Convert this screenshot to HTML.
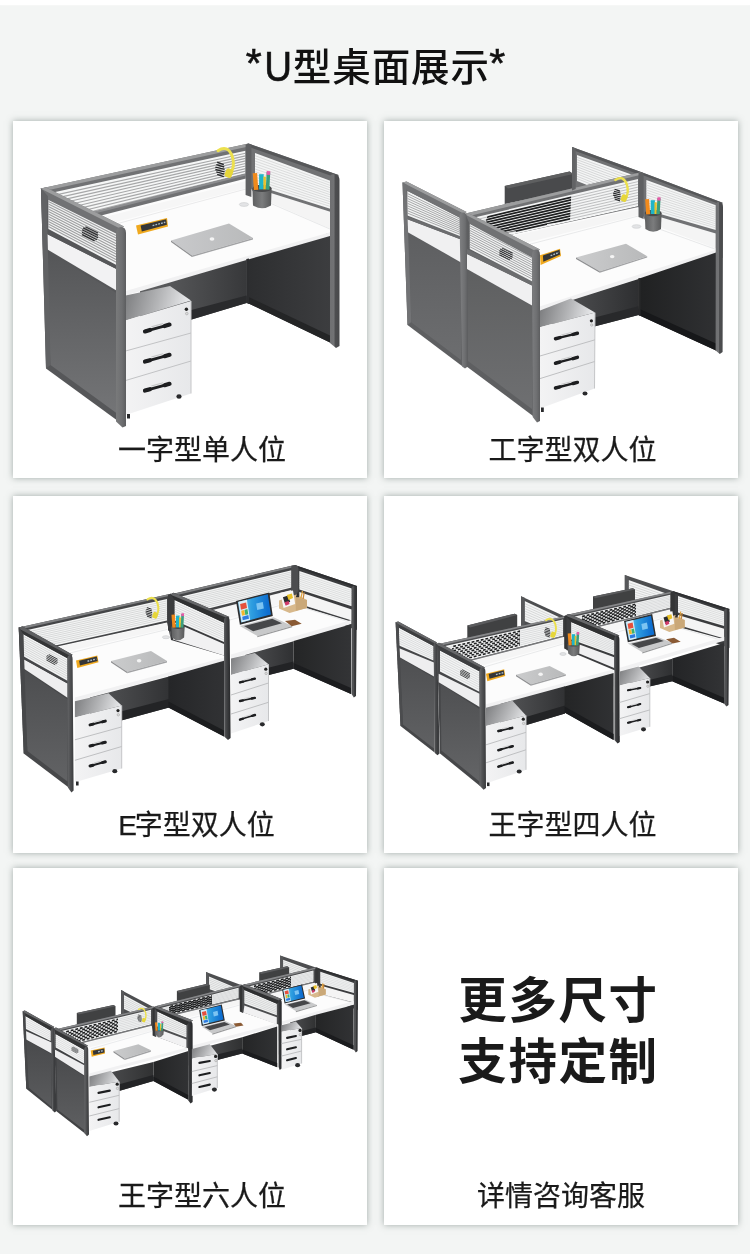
<!DOCTYPE html>
<html lang="zh-CN">
<head>
<meta charset="utf-8">
<title>U型桌面展示</title>
<style>
*{margin:0;padding:0;box-sizing:border-box}
html,body{width:750px;height:1254px;overflow:hidden}
body{background:#f3f5f4;position:relative;font-family:"Liberation Sans","Noto Sans CJK SC",sans-serif;color:#1a1a1a}
.topbar{position:absolute;left:0;top:0;width:750px;height:5px;background:#fff;box-shadow:0 0 2px rgba(255,255,255,.9)}
h1{filter:grayscale(1);position:absolute;left:0;top:38.5px;width:750px;text-align:center;font-size:38.5px;line-height:56px;font-weight:500;letter-spacing:.9px;color:#111;padding-left:5px}
.ast{position:relative;top:-4px;left:-1.5px;font-size:41px;-webkit-text-stroke:.6px #111}.lat{-webkit-text-stroke:.55px #111;display:inline-block;transform:scaleY(1.1);transform-origin:50% 76%}
.card{position:absolute;width:354px;height:357px;background:#fff;box-shadow:0 0 6.5px rgba(80,95,92,.5)}
.c1{left:13px;top:121px}.c2{left:384px;top:121px}
.c3{left:13px;top:496px}.c4{left:384px;top:496px}
.c5{left:13px;top:868px}.c6{left:384px;top:868px}
.lbl{-webkit-text-stroke:.25px #1a1a1a;filter:grayscale(1);position:absolute;font-size:28px;line-height:40px;white-space:nowrap;font-weight:400;color:#1a1a1a;transform:translateX(-50%)}
.big{filter:grayscale(1);position:absolute;left:384px;width:354px;text-align:center;font-size:48.5px;line-height:60.7px;font-weight:700;letter-spacing:1.6px;color:#1a1a1a;white-space:nowrap}
svg.art{position:absolute;left:0;top:0;width:750px;height:1254px;overflow:visible}
</style>
</head>
<body>
<div class="topbar"></div>
<h1><span class="ast">*</span><span class="lat">U</span>型桌面展示<span class="ast" style="margin-left:1px">*</span></h1>
<div class="card c1"></div><div class="card c2"></div>
<div class="card c3"></div><div class="card c4"></div>
<div class="card c5"></div><div class="card c6"></div>
<svg class="art" viewBox="0 0 750 1254">
<!--DESK1--><defs><linearGradient id="d1m" gradientUnits="userSpaceOnUse" x1="150" y1="0" x2="247" y2="0"><stop offset="0" stop-color="#5d5e60"/><stop offset="1" stop-color="#37383a"/></linearGradient><linearGradient id="d1r" gradientUnits="userSpaceOnUse" x1="249" y1="0" x2="330" y2="0"><stop offset="0" stop-color="#2d2e30"/><stop offset="1" stop-color="#3c3d3f"/></linearGradient><linearGradient id="d1p" gradientUnits="userSpaceOnUse" x1="330" y1="0" x2="339.5" y2="0"><stop offset="0" stop-color="#6f7072"/><stop offset="0.45" stop-color="#727375"/><stop offset="0.5" stop-color="#4e4f51"/><stop offset="1" stop-color="#48494b"/></linearGradient><linearGradient id="d1ft" gradientUnits="userSpaceOnUse" x1="125.6" y1="293" x2="184" y2="309"><stop offset="0" stop-color="#7d7e80"/><stop offset="0.55" stop-color="#b4b5b7"/><stop offset="1" stop-color="#e5e6e8"/></linearGradient><linearGradient id="d1f" gradientUnits="userSpaceOnUse" x1="125" y1="0" x2="191" y2="0"><stop offset="0" stop-color="#f3f3f4"/><stop offset="1" stop-color="#e7e8ea"/></linearGradient><linearGradient id="d1l" gradientUnits="userSpaceOnUse" x1="0" y1="230" x2="0" y2="420"><stop offset="0" stop-color="#515254"/><stop offset="1" stop-color="#757678"/></linearGradient><linearGradient id="d1q" gradientUnits="userSpaceOnUse" x1="116" y1="0" x2="126" y2="0"><stop offset="0" stop-color="#797a7b"/><stop offset="0.6" stop-color="#6e6f71"/><stop offset="1" stop-color="#5c5d5f"/></linearGradient><linearGradient id="d1lap" gradientUnits="userSpaceOnUse" x1="170" y1="0" x2="252" y2="0"><stop offset="0" stop-color="#c9cacc"/><stop offset="1" stop-color="#b9babb"/></linearGradient><linearGradient id="d1cup" gradientUnits="userSpaceOnUse" x1="252.4" y1="0" x2="271.6" y2="0"><stop offset="0" stop-color="#5e5f60"/><stop offset="0.5" stop-color="#7b7c7d"/><stop offset="1" stop-color="#575859"/></linearGradient></defs><g id="desk1"><polygon points="41.0,188.6 248.5,143.6 248.5,200.0 43.0,250.0" fill="#717274" /><polygon points="40.5,188.6 248.5,143.6 248.5,146.4 42.0,191.6" fill="#9c9d9e" /><polygon points="46.0,193.9 245.5,150.8 245.5,178.8 46.0,229.3" fill="#f6f7f7" /><line x1="46.0" y1="197.1" x2="245.5" y2="153.3" stroke="#a6a7a8" stroke-width="1.1" /><line x1="46.0" y1="200.4" x2="245.5" y2="155.9" stroke="#a6a7a8" stroke-width="1.1" /><line x1="46.0" y1="203.6" x2="245.5" y2="158.4" stroke="#a6a7a8" stroke-width="1.1" /><line x1="46.0" y1="206.8" x2="245.5" y2="160.9" stroke="#a6a7a8" stroke-width="1.1" /><line x1="46.0" y1="210.0" x2="245.5" y2="163.5" stroke="#a6a7a8" stroke-width="1.1" /><line x1="46.0" y1="213.2" x2="245.5" y2="166.0" stroke="#a6a7a8" stroke-width="1.1" /><line x1="46.0" y1="216.4" x2="245.5" y2="168.6" stroke="#a6a7a8" stroke-width="1.1" /><line x1="46.0" y1="219.7" x2="245.5" y2="171.1" stroke="#a6a7a8" stroke-width="1.1" /><line x1="46.0" y1="222.9" x2="245.5" y2="173.7" stroke="#a6a7a8" stroke-width="1.1" /><line x1="46.0" y1="226.1" x2="245.5" y2="176.2" stroke="#a6a7a8" stroke-width="1.1" /><polygon points="46.0,223.8 245.5,173.8 245.5,179.4 46.0,229.9" fill="#707173" /><polygon points="46.0,223.8 245.5,173.8 245.5,175.6 46.0,225.8" fill="#8d8e90" /><polygon points="248.5,143.6 338.5,175.0 338.5,240.0 248.5,205.0" fill="#717274" /><polygon points="248.5,143.6 338.5,175.0 336.0,177.6 248.5,146.8" fill="#565759" /><polygon points="255.0,153.0 331.0,181.0 331.0,209.0 255.0,185.0" fill="#f4f5f5" /><line x1="255.0" y1="155.7" x2="331.0" y2="183.3" stroke="#d4d5d6" stroke-width="0.8" /><line x1="255.0" y1="158.3" x2="331.0" y2="185.7" stroke="#d4d5d6" stroke-width="0.8" /><line x1="255.0" y1="161.0" x2="331.0" y2="188.0" stroke="#d4d5d6" stroke-width="0.8" /><line x1="255.0" y1="163.7" x2="331.0" y2="190.3" stroke="#d4d5d6" stroke-width="0.8" /><line x1="255.0" y1="166.3" x2="331.0" y2="192.7" stroke="#d4d5d6" stroke-width="0.8" /><line x1="255.0" y1="169.0" x2="331.0" y2="195.0" stroke="#d4d5d6" stroke-width="0.8" /><line x1="255.0" y1="171.7" x2="331.0" y2="197.3" stroke="#d4d5d6" stroke-width="0.8" /><line x1="255.0" y1="174.3" x2="331.0" y2="199.7" stroke="#d4d5d6" stroke-width="0.8" /><line x1="255.0" y1="177.0" x2="331.0" y2="202.0" stroke="#d4d5d6" stroke-width="0.8" /><line x1="255.0" y1="179.7" x2="331.0" y2="204.3" stroke="#d4d5d6" stroke-width="0.8" /><line x1="255.0" y1="182.3" x2="331.0" y2="206.7" stroke="#d4d5d6" stroke-width="0.8" /><polygon points="255.0,188.0 331.0,212.0 331.0,233.0 255.0,205.0" fill="#f4f4f4" /><polygon points="60.0,226.0 246.0,178.6 246.0,181.0 256.0,196.0 331.0,229.0 331.0,232.5 125.6,291.5 100.0,280.0" fill="#fcfcfc" /><polygon points="98.6,218.5 246.0,181.0 246.0,188.0 116.0,222.0" fill="#f6f6f6" /><line x1="116.0" y1="224.0" x2="246.0" y2="189.0" stroke="#e4e5e6" stroke-width="0.8" /><line x1="256.0" y1="197.0" x2="331.0" y2="229.5" stroke="#e2e3e4" stroke-width="0.8" /><polygon points="125.6,291.0 331.0,232.0 331.0,236.2 125.6,295.4" fill="#f1f1f2" /><polygon points="140.0,291.2 246.5,260.0 246.5,303.0 140.0,335.0" fill="url(#d1m)" /><polygon points="140.0,323.5 246.5,295.5 246.5,303.0 140.0,335.0" fill="#2a2b2d" /><polygon points="246.5,260.0 330.0,236.0 330.0,342.5 246.5,302.5" fill="url(#d1r)" /><polygon points="246.5,296.0 330.0,335.5 330.0,342.5 246.5,302.5" fill="#242526" /><polygon points="246.3,259.0 249.0,258.4 249.0,304.0 246.3,303.0" fill="#2c2d2f" /><polygon points="245.6,144.4 248.5,143.6 251.4,144.8 251.4,197.0 245.6,195.0" fill="#5f6062" /><path d="M330,178 Q330,173.5 334.5,174.5 L336.5,175 Q339.5,176 339.5,180 L339.5,346 L336,348 L330,343 Z" fill="url(#d1p)"/><polygon points="125.6,295.4 170.0,286.0 191.0,300.5 125.6,320.5" fill="url(#d1ft)" /><polygon points="125.6,320.5 191.0,301.0 191.0,393.5 125.6,415.0" fill="url(#d1f)" /><line x1="191.0" y1="301.0" x2="191.0" y2="393.5" stroke="#c5c6c8" stroke-width="1" /><line x1="125.6" y1="351.0" x2="191.0" y2="333.0" stroke="#c2c3c5" stroke-width="1" /><line x1="125.6" y1="380.5" x2="191.0" y2="361.0" stroke="#c2c3c5" stroke-width="1" /><line x1="145.0" y1="331.4" x2="169.5" y2="324.6" stroke="#1d1e20" stroke-width="2.8" stroke-linecap="round"/><line x1="145.0" y1="331.4" x2="149.9" y2="330.0" stroke="#1d1e20" stroke-width="4.2" stroke-linecap="round"/><line x1="164.6" y1="326.0" x2="169.5" y2="324.6" stroke="#1d1e20" stroke-width="4.2" stroke-linecap="round"/><line x1="151.4" y1="326.8" x2="163.1" y2="323.6" stroke="#c4c5c6" stroke-width="1.1" /><line x1="145.0" y1="361.6" x2="169.5" y2="354.8" stroke="#1d1e20" stroke-width="2.8" stroke-linecap="round"/><line x1="145.0" y1="361.6" x2="149.9" y2="360.2" stroke="#1d1e20" stroke-width="4.2" stroke-linecap="round"/><line x1="164.6" y1="356.2" x2="169.5" y2="354.8" stroke="#1d1e20" stroke-width="4.2" stroke-linecap="round"/><line x1="151.4" y1="357.0" x2="163.1" y2="353.8" stroke="#c4c5c6" stroke-width="1.1" /><line x1="145.0" y1="390.6" x2="169.5" y2="383.8" stroke="#1d1e20" stroke-width="2.8" stroke-linecap="round"/><line x1="145.0" y1="390.6" x2="149.9" y2="389.2" stroke="#1d1e20" stroke-width="4.2" stroke-linecap="round"/><line x1="164.6" y1="385.2" x2="169.5" y2="383.8" stroke="#1d1e20" stroke-width="4.2" stroke-linecap="round"/><line x1="151.4" y1="386.0" x2="163.1" y2="382.8" stroke="#c4c5c6" stroke-width="1.1" /><circle cx="186.4" cy="309.3" r="1.7" fill="#222"/><circle cx="186.8" cy="313.6" r="1.3" fill="#ddd" stroke="#999" stroke-width=".5"/><ellipse cx="179" cy="396.5" rx="2.6" ry="2.2" fill="#292a2c"/><rect x="127" y="414" width="3" height="4.5" fill="#292a2c"/><polygon points="41.0,189.0 118.0,228.0 118.0,421.0 46.0,368.5" fill="#565759" /><polygon points="45.5,250.5 116.4,293.0 116.4,413.0 50.5,365.0" fill="url(#d1l)" /><polygon points="45.0,233.0 116.4,269.0 116.4,290.6 45.0,248.0" fill="#f2f2f3" /><polygon points="44.5,229.4 116.4,265.0 116.4,269.0 45.0,233.0" fill="#565759" /><polygon points="48.4,199.0 116.4,233.0 116.4,265.0 48.4,229.0" fill="#f2f3f3" /><line x1="48.4" y1="201.5" x2="116.4" y2="235.7" stroke="#9e9fa0" stroke-width="1.1" /><line x1="48.4" y1="204.0" x2="116.4" y2="238.3" stroke="#9e9fa0" stroke-width="1.1" /><line x1="48.4" y1="206.5" x2="116.4" y2="241.0" stroke="#9e9fa0" stroke-width="1.1" /><line x1="48.4" y1="209.0" x2="116.4" y2="243.7" stroke="#9e9fa0" stroke-width="1.1" /><line x1="48.4" y1="211.5" x2="116.4" y2="246.3" stroke="#9e9fa0" stroke-width="1.1" /><line x1="48.4" y1="214.0" x2="116.4" y2="249.0" stroke="#9e9fa0" stroke-width="1.1" /><line x1="48.4" y1="216.5" x2="116.4" y2="251.7" stroke="#9e9fa0" stroke-width="1.1" /><line x1="48.4" y1="219.0" x2="116.4" y2="254.3" stroke="#9e9fa0" stroke-width="1.1" /><line x1="48.4" y1="221.5" x2="116.4" y2="257.0" stroke="#9e9fa0" stroke-width="1.1" /><line x1="48.4" y1="224.0" x2="116.4" y2="259.7" stroke="#9e9fa0" stroke-width="1.1" /><line x1="48.4" y1="226.5" x2="116.4" y2="262.3" stroke="#9e9fa0" stroke-width="1.1" /><polygon points="40.5,188.6 46.0,187.4 124.0,226.5 118.0,231.0 116.0,233.5 47.5,199.5 47.5,196.0" fill="#717274" /><polygon points="40.5,188.6 46.0,187.4 124.0,226.5 120.0,228.6" fill="#9c9d9e" /><polygon points="41.0,188.6 47.5,196.0 47.5,230.0 50.5,365.0 46.0,368.5" fill="#616264" /><path d="M116,234 Q116,227 121,227 Q126,227 126,233 L126,426 L122.5,427.5 L116,421.5 Z" fill="url(#d1q)"/><line x1="85.4" y1="226.7" x2="98.0" y2="233.0" stroke="#2b2c2e" stroke-width="1.26" /><line x1="83.1" y1="227.9" x2="98.0" y2="235.4" stroke="#2b2c2e" stroke-width="1.26" /><line x1="82.0" y1="229.8" x2="98.0" y2="237.8" stroke="#2b2c2e" stroke-width="1.26" /><line x1="82.0" y1="232.2" x2="96.9" y2="239.7" stroke="#2b2c2e" stroke-width="1.26" /><line x1="82.0" y1="234.6" x2="94.6" y2="240.9" stroke="#2b2c2e" stroke-width="1.26" /><polygon points="136.0,225.6 167.0,218.0 168.0,226.4 138.0,234.6" fill="#f0a91e" /><polygon points="140.6,225.6 166.2,219.2 166.9,224.8 141.8,231.5" fill="#353637" /><line x1="152.6" y1="225.6" x2="165.3" y2="222.3" stroke="#a9bccb" stroke-width="1.4" stroke-dasharray="1.8 1.1"/><polygon points="171.0,240.5 229.0,223.5 253.0,238.0 192.0,255.5" fill="url(#d1lap)" /><polygon points="171.0,240.5 192.0,255.5 192.0,257.0 171.0,242.0" fill="#8f9092" /><polygon points="192.0,255.5 253.0,238.0 253.0,239.4 192.0,257.0" fill="#a2a3a5" /><ellipse cx="212" cy="239" rx="2.4" ry="1.8" fill="#f4f4f4"/><path d="M252.4,188.4 L253.0,205.4 Q262.0,210.9 271.0,205.4 L271.6,188.4 Z" fill="url(#d1cup)"/><ellipse cx="262.0" cy="188.4" rx="9.6" ry="3.6" fill="#48494a"/><rect x="253.8" y="172.7" width="4.4" height="16.8" fill="#f08a1c" transform="rotate(-4 262.0 188.4)"/><rect x="259.1" y="174.2" width="4.6" height="15.2" fill="#1fb5c9"/><rect x="263.4" y="176.6" width="2.5" height="12.8" fill="#e8c12a"/><rect x="265.8" y="171.9" width="3.6" height="17.5" fill="#3b9e7e" transform="rotate(3 262.0 188.4)"/><rect x="265.8" y="170.8" width="3.6" height="3.8" fill="#e55aa6" transform="rotate(3 262.0 188.4)"/><ellipse cx="244" cy="204.5" rx="4.6" ry="1.9" fill="#e3e4e6" stroke="#cacbcd" stroke-width=".6"/><g transform="translate(218.0 146.5) scale(1.05)"><path d="M0,4 Q9,-2 13.5,9 Q16.5,19 12,26" fill="none" stroke="#ece04e" stroke-width="2.8" stroke-linecap="round"/><rect x="7" y="21" width="7" height="8.5" rx="2.2" fill="#e6d63a" transform="rotate(22 10 25)"/><line x1="-0.8" y1="15.0" x2="5.5" y2="17.2" stroke="#27282a" stroke-width="1.3" /><line x1="-1.6" y1="17.3" x2="5.9" y2="19.5" stroke="#27282a" stroke-width="1.3" /><line x1="-2.5" y1="19.6" x2="6.3" y2="21.8" stroke="#27282a" stroke-width="1.3" /><line x1="-2.5" y1="21.9" x2="6.3" y2="24.1" stroke="#27282a" stroke-width="1.3" /><line x1="-1.6" y1="24.2" x2="5.9" y2="26.4" stroke="#27282a" stroke-width="1.3" /><line x1="-0.8" y1="26.5" x2="5.5" y2="28.7" stroke="#27282a" stroke-width="1.3" /></g></g><!--/DESK1-->
<!--DESK2--><defs><linearGradient id="d2m" gradientUnits="userSpaceOnUse" x1="560" y1="0" x2="640" y2="0"><stop offset="0" stop-color="#515254"/><stop offset="1" stop-color="#2d2e30"/></linearGradient><linearGradient id="d2r" gradientUnits="userSpaceOnUse" x1="640" y1="0" x2="714" y2="0"><stop offset="0" stop-color="#202122"/><stop offset="1" stop-color="#2f3032"/></linearGradient><linearGradient id="d2p" gradientUnits="userSpaceOnUse" x1="715.8" y1="0" x2="723" y2="0"><stop offset="0" stop-color="#6f7072"/><stop offset="0.45" stop-color="#727375"/><stop offset="0.5" stop-color="#4e4f51"/><stop offset="1" stop-color="#48494b"/></linearGradient><linearGradient id="d2ft" gradientUnits="userSpaceOnUse" x1="540" y1="308.6" x2="589.5" y2="320.115"><stop offset="0" stop-color="#7d7e80"/><stop offset="0.55" stop-color="#b4b5b7"/><stop offset="1" stop-color="#e5e6e8"/></linearGradient><linearGradient id="d2f" gradientUnits="userSpaceOnUse" x1="540" y1="0" x2="595" y2="0"><stop offset="0" stop-color="#f3f3f4"/><stop offset="1" stop-color="#e7e8ea"/></linearGradient><linearGradient id="d2a" gradientUnits="userSpaceOnUse" x1="0" y1="225" x2="0" y2="365"><stop offset="0" stop-color="#5d5e60"/><stop offset="1" stop-color="#6d6e70"/></linearGradient><linearGradient id="d2b" gradientUnits="userSpaceOnUse" x1="0" y1="265" x2="0" y2="415"><stop offset="0" stop-color="#5e5f60"/><stop offset="1" stop-color="#6f7072"/></linearGradient><linearGradient id="d2mp" gradientUnits="userSpaceOnUse" x1="460.5" y1="0" x2="467.8" y2="0"><stop offset="0" stop-color="#7c7d7f"/><stop offset="0.6" stop-color="#6e6f71"/><stop offset="1" stop-color="#5c5d5f"/></linearGradient><linearGradient id="d2q" gradientUnits="userSpaceOnUse" x1="532" y1="0" x2="540" y2="0"><stop offset="0" stop-color="#7c7d7f"/><stop offset="0.6" stop-color="#6e6f71"/><stop offset="1" stop-color="#5c5d5f"/></linearGradient><linearGradient id="d2lap" gradientUnits="userSpaceOnUse" x1="576" y1="0" x2="647.2" y2="0"><stop offset="0" stop-color="#cbcccd"/><stop offset="1" stop-color="#b8b9ba"/></linearGradient><linearGradient id="d2cup" gradientUnits="userSpaceOnUse" x1="644.8000000000001" y1="0" x2="661.6" y2="0"><stop offset="0" stop-color="#5e5f60"/><stop offset="0.5" stop-color="#7b7c7d"/><stop offset="1" stop-color="#575859"/></linearGradient></defs><g id="desk2"><polygon points="504.7,186.0 569.6,171.5 573.3,174.0 573.3,190.0 504.7,204.0" fill="#494a4c" /><polygon points="504.7,186.0 569.6,171.5 573.3,174.0 508.0,188.5" fill="#5e5f60" /><polygon points="572.0,147.0 641.0,172.0 641.0,215.0 572.0,190.0" fill="#717274" /><polygon points="572.0,147.0 641.0,172.0 639.0,174.6 574.0,150.4" fill="#565759" /><polygon points="577.0,155.0 637.0,176.5 637.0,205.0 577.0,181.0" fill="#f4f5f5" /><line x1="577.0" y1="157.4" x2="637.0" y2="179.1" stroke="#cecfd0" stroke-width="0.8" /><line x1="577.0" y1="159.7" x2="637.0" y2="181.7" stroke="#cecfd0" stroke-width="0.8" /><line x1="577.0" y1="162.1" x2="637.0" y2="184.3" stroke="#cecfd0" stroke-width="0.8" /><line x1="577.0" y1="164.5" x2="637.0" y2="186.9" stroke="#cecfd0" stroke-width="0.8" /><line x1="577.0" y1="166.8" x2="637.0" y2="189.5" stroke="#cecfd0" stroke-width="0.8" /><line x1="577.0" y1="169.2" x2="637.0" y2="192.0" stroke="#cecfd0" stroke-width="0.8" /><line x1="577.0" y1="171.5" x2="637.0" y2="194.6" stroke="#cecfd0" stroke-width="0.8" /><line x1="577.0" y1="173.9" x2="637.0" y2="197.2" stroke="#cecfd0" stroke-width="0.8" /><line x1="577.0" y1="176.3" x2="637.0" y2="199.8" stroke="#cecfd0" stroke-width="0.8" /><line x1="577.0" y1="178.6" x2="637.0" y2="202.4" stroke="#cecfd0" stroke-width="0.8" /><polygon points="465.6,213.6 641.0,172.2 641.0,215.0 465.6,262.0" fill="#717274" /><polygon points="465.6,213.6 641.0,172.2 641.0,174.8 467.0,216.6" fill="#9c9d9e" /><polygon points="470.0,218.6 638.0,178.9 638.0,206.2 470.0,244.0" fill="#f4f5f5" /><line x1="470.0" y1="221.1" x2="638.0" y2="181.6" stroke="#b7b8b9" stroke-width="0.9" /><line x1="470.0" y1="223.6" x2="638.0" y2="184.3" stroke="#b7b8b9" stroke-width="0.9" /><line x1="470.0" y1="226.2" x2="638.0" y2="187.1" stroke="#b7b8b9" stroke-width="0.9" /><line x1="470.0" y1="228.7" x2="638.0" y2="189.8" stroke="#b7b8b9" stroke-width="0.9" /><line x1="470.0" y1="231.3" x2="638.0" y2="192.5" stroke="#b7b8b9" stroke-width="0.9" /><line x1="470.0" y1="233.8" x2="638.0" y2="195.3" stroke="#b7b8b9" stroke-width="0.9" /><line x1="470.0" y1="236.4" x2="638.0" y2="198.0" stroke="#b7b8b9" stroke-width="0.9" /><line x1="470.0" y1="238.9" x2="638.0" y2="200.7" stroke="#b7b8b9" stroke-width="0.9" /><line x1="470.0" y1="241.4" x2="638.0" y2="203.5" stroke="#b7b8b9" stroke-width="0.9" /><clipPath id="d2cg"><polygon points="496.0,192.0 572.0,178.0 570.0,221.0 547.0,224.0 547.0,232.0 514.0,238.0 516.0,231.0 486.0,236.0 484.0,226.0" fill="#000" /></clipPath><g clip-path="url(#d2cg)"><line x1="470.0" y1="221.1" x2="638.0" y2="181.6" stroke="#1e1f20" stroke-width="1.7" /><line x1="470.0" y1="223.6" x2="638.0" y2="184.3" stroke="#1e1f20" stroke-width="1.7" /><line x1="470.0" y1="226.2" x2="638.0" y2="187.1" stroke="#1e1f20" stroke-width="1.7" /><line x1="470.0" y1="228.7" x2="638.0" y2="189.8" stroke="#1e1f20" stroke-width="1.7" /><line x1="470.0" y1="231.3" x2="638.0" y2="192.5" stroke="#1e1f20" stroke-width="1.7" /><line x1="470.0" y1="233.8" x2="638.0" y2="195.3" stroke="#1e1f20" stroke-width="1.7" /><line x1="470.0" y1="236.4" x2="638.0" y2="198.0" stroke="#1e1f20" stroke-width="1.7" /><line x1="470.0" y1="238.9" x2="638.0" y2="200.7" stroke="#1e1f20" stroke-width="1.7" /><line x1="470.0" y1="241.4" x2="638.0" y2="203.5" stroke="#1e1f20" stroke-width="1.7" /></g><polygon points="470.0,244.0 638.0,206.2 638.0,209.2 470.0,247.0" fill="#78797b" /><polygon points="641.0,172.0 722.6,202.8 722.6,258.0 641.0,222.0" fill="#717274" /><polygon points="641.0,172.0 722.6,202.8 720.6,204.6 641.0,174.4" fill="#565759" /><polygon points="646.4,180.0 715.8,205.2 715.8,230.0 646.4,210.0" fill="#f4f5f5" /><line x1="646.4" y1="182.5" x2="715.8" y2="207.3" stroke="#d4d5d6" stroke-width="0.8" /><line x1="646.4" y1="185.0" x2="715.8" y2="209.3" stroke="#d4d5d6" stroke-width="0.8" /><line x1="646.4" y1="187.5" x2="715.8" y2="211.4" stroke="#d4d5d6" stroke-width="0.8" /><line x1="646.4" y1="190.0" x2="715.8" y2="213.5" stroke="#d4d5d6" stroke-width="0.8" /><line x1="646.4" y1="192.5" x2="715.8" y2="215.5" stroke="#d4d5d6" stroke-width="0.8" /><line x1="646.4" y1="195.0" x2="715.8" y2="217.6" stroke="#d4d5d6" stroke-width="0.8" /><line x1="646.4" y1="197.5" x2="715.8" y2="219.7" stroke="#d4d5d6" stroke-width="0.8" /><line x1="646.4" y1="200.0" x2="715.8" y2="221.7" stroke="#d4d5d6" stroke-width="0.8" /><line x1="646.4" y1="202.5" x2="715.8" y2="223.8" stroke="#d4d5d6" stroke-width="0.8" /><line x1="646.4" y1="205.0" x2="715.8" y2="225.9" stroke="#d4d5d6" stroke-width="0.8" /><line x1="646.4" y1="207.5" x2="715.8" y2="227.9" stroke="#d4d5d6" stroke-width="0.8" /><polygon points="646.4,213.0 715.8,233.6 715.8,249.0 646.4,224.0" fill="#f4f4f4" /><polygon points="470.0,250.0 512.0,234.5 638.5,207.0 646.0,222.0 716.0,248.6 716.0,250.6 540.0,308.0 500.0,290.0" fill="#fcfcfc" /><polygon points="512.0,236.0 638.5,208.5 638.5,215.0 525.0,243.0" fill="#f5f5f5" /><line x1="527.0" y1="245.0" x2="638.5" y2="216.0" stroke="#e3e4e6" stroke-width="0.8" /><line x1="646.4" y1="224.4" x2="715.8" y2="249.4" stroke="#e2e3e4" stroke-width="0.8" /><polygon points="539.6,306.5 716.4,249.6 716.4,253.6 539.6,310.6" fill="#f1f1f2" /><polygon points="552.0,306.5 638.5,278.9 638.5,315.0 552.0,337.5" fill="url(#d2m)" /><polygon points="552.0,328.5 638.5,306.3 638.5,315.0 552.0,337.5" fill="#28292b" /><polygon points="638.5,278.7 716.0,252.6 716.0,350.6 638.5,315.0" fill="url(#d2r)" /><polygon points="638.5,308.5 716.0,343.6 716.0,350.6 638.5,315.0" fill="#17181a" /><polygon points="638.2,278.6 640.6,278.0 640.6,316.0 638.2,315.0" fill="#28292a" /><polygon points="638.5,173.0 641.0,172.0 643.6,173.2 643.6,219.0 638.5,217.0" fill="#5f6062" /><path d="M715.8,206 Q715.8,201.5 719,202.2 L720.4,202.6 Q723,203.6 723,207.6 L722.6,352 L719.8,354 L715.6,350.4 Z" fill="url(#d2p)"/><polygon points="572.0,147.0 575.7,148.3 575.7,189.0 572.0,190.5" fill="#626365" /><polygon points="540.0,310.6 571.0,298.5 595.0,312.6 540.0,327.3" fill="url(#d2ft)" /><polygon points="540.0,327.3 595.0,312.6 594.5,388.5 540.0,408.5" fill="url(#d2f)" /><line x1="595.0" y1="312.6" x2="594.5" y2="388.5" stroke="#c5c6c8" stroke-width="1" /><line x1="540.0" y1="356.0" x2="595.0" y2="339.8" stroke="#bfc0c2" stroke-width="1" /><line x1="540.0" y1="378.6" x2="594.7" y2="361.5" stroke="#bfc0c2" stroke-width="1" /><line x1="555.5" y1="338.7" x2="577.4" y2="333.3" stroke="#1d1e20" stroke-width="2.38" stroke-linecap="round"/><line x1="555.5" y1="338.7" x2="559.9" y2="337.6" stroke="#1d1e20" stroke-width="3.48" stroke-linecap="round"/><line x1="573.0" y1="334.4" x2="577.4" y2="333.3" stroke="#1d1e20" stroke-width="3.48" stroke-linecap="round"/><line x1="561.2" y1="335.0" x2="571.7" y2="332.4" stroke="#c4c5c6" stroke-width="0.92" /><line x1="555.5" y1="363.2" x2="577.4" y2="357.4" stroke="#1d1e20" stroke-width="2.38" stroke-linecap="round"/><line x1="555.5" y1="363.2" x2="559.9" y2="362.0" stroke="#1d1e20" stroke-width="3.48" stroke-linecap="round"/><line x1="573.0" y1="358.6" x2="577.4" y2="357.4" stroke="#1d1e20" stroke-width="3.48" stroke-linecap="round"/><line x1="561.2" y1="359.4" x2="571.7" y2="356.6" stroke="#c4c5c6" stroke-width="0.92" /><line x1="555.5" y1="388.0" x2="577.4" y2="382.4" stroke="#1d1e20" stroke-width="2.38" stroke-linecap="round"/><line x1="555.5" y1="388.0" x2="559.9" y2="386.9" stroke="#1d1e20" stroke-width="3.48" stroke-linecap="round"/><line x1="573.0" y1="383.5" x2="577.4" y2="382.4" stroke="#1d1e20" stroke-width="3.48" stroke-linecap="round"/><line x1="561.2" y1="384.3" x2="571.7" y2="381.6" stroke="#c4c5c6" stroke-width="0.92" /><circle cx="591.4" cy="320.8" r="1.6" fill="#222"/><circle cx="591.7" cy="325.0" r="1.2" fill="#ddd" stroke="#999" stroke-width=".5"/><ellipse cx="585.0" cy="393.5" rx="2.5" ry="2.1" fill="#292a2c"/><rect x="541" y="407.5" width="2.8" height="4.5" fill="#292a2c"/><polygon points="402.5,182.4 462.0,213.0 462.0,366.0 407.5,325.0" fill="#5e5f61" /><polygon points="408.0,232.5 461.0,264.0 461.0,360.0 411.5,322.5" fill="url(#d2a)" /><polygon points="405.4,218.4 461.0,239.4 461.0,262.4 405.6,231.0" fill="#f0f0f1" /><polygon points="405.5,215.4 461.0,236.4 461.0,239.4 405.4,218.4" fill="#6c6d6f" /><polygon points="407.4,191.0 461.0,218.0 461.0,236.4 407.4,215.6" fill="#f2f3f3" /><line x1="407.4" y1="193.5" x2="461.0" y2="219.8" stroke="#a8a9aa" stroke-width="1" /><line x1="407.4" y1="195.9" x2="461.0" y2="221.7" stroke="#a8a9aa" stroke-width="1" /><line x1="407.4" y1="198.4" x2="461.0" y2="223.5" stroke="#a8a9aa" stroke-width="1" /><line x1="407.4" y1="200.8" x2="461.0" y2="225.4" stroke="#a8a9aa" stroke-width="1" /><line x1="407.4" y1="203.3" x2="461.0" y2="227.2" stroke="#a8a9aa" stroke-width="1" /><line x1="407.4" y1="205.8" x2="461.0" y2="229.0" stroke="#a8a9aa" stroke-width="1" /><line x1="407.4" y1="208.2" x2="461.0" y2="230.9" stroke="#a8a9aa" stroke-width="1" /><line x1="407.4" y1="210.7" x2="461.0" y2="232.7" stroke="#a8a9aa" stroke-width="1" /><line x1="407.4" y1="213.1" x2="461.0" y2="234.6" stroke="#a8a9aa" stroke-width="1" /><polygon points="402.5,182.4 406.5,181.4 466.6,212.0 462.0,215.0 461.0,218.5 407.0,190.5" fill="#717274" /><polygon points="402.5,182.4 406.5,181.4 466.6,212.0 463.5,213.6" fill="#9c9d9e" /><polygon points="466.0,216.0 533.0,251.0 533.0,416.0 466.0,366.0" fill="#5e5f61" /><polygon points="468.0,270.0 532.0,306.5 532.0,409.0 468.0,361.0" fill="url(#d2b)" /><polygon points="467.0,254.0 532.0,285.5 532.0,305.5 467.0,269.0" fill="#f0f0f1" /><polygon points="467.0,249.0 532.0,280.5 532.0,285.5 467.0,254.0" fill="#6c6d6f" /><polygon points="469.8,223.4 532.4,256.0 532.4,281.4 469.8,249.0" fill="#f2f3f3" /><line x1="469.8" y1="225.7" x2="532.4" y2="258.3" stroke="#a3a4a6" stroke-width="1" /><line x1="469.8" y1="228.1" x2="532.4" y2="260.6" stroke="#a3a4a6" stroke-width="1" /><line x1="469.8" y1="230.4" x2="532.4" y2="262.9" stroke="#a3a4a6" stroke-width="1" /><line x1="469.8" y1="232.7" x2="532.4" y2="265.2" stroke="#a3a4a6" stroke-width="1" /><line x1="469.8" y1="235.0" x2="532.4" y2="267.5" stroke="#a3a4a6" stroke-width="1" /><line x1="469.8" y1="237.4" x2="532.4" y2="269.9" stroke="#a3a4a6" stroke-width="1" /><line x1="469.8" y1="239.7" x2="532.4" y2="272.2" stroke="#a3a4a6" stroke-width="1" /><line x1="469.8" y1="242.0" x2="532.4" y2="274.5" stroke="#a3a4a6" stroke-width="1" /><line x1="469.8" y1="244.3" x2="532.4" y2="276.8" stroke="#a3a4a6" stroke-width="1" /><line x1="469.8" y1="246.7" x2="532.4" y2="279.1" stroke="#a3a4a6" stroke-width="1" /><polygon points="465.6,214.8 469.0,213.4 540.0,249.5 535.0,254.0 532.0,257.5 469.8,224.0" fill="#717274" /><polygon points="465.6,214.8 469.0,213.4 540.0,249.5 536.5,251.5" fill="#9c9d9e" /><path d="M459.5,217 Q459.5,212.6 463,212.6 Q466.6,212.6 466.6,217 L467.8,366.5 L465,368.5 L462,366.5 Z" fill="url(#d2mp)"/><polygon points="402.5,182.4 406.4,184.5 411.3,322.0 407.5,325.0" fill="#727375" /><path d="M532,256 Q532,249.5 536,249.5 Q540,249.5 540,255 L540,421 L537,422.5 L532.7,417 Z" fill="url(#d2q)"/><line x1="502.2" y1="248.1" x2="512.6" y2="253.3" stroke="#2b2c2e" stroke-width="1.04" /><line x1="500.3" y1="249.2" x2="512.6" y2="255.3" stroke="#2b2c2e" stroke-width="1.04" /><line x1="499.4" y1="250.7" x2="512.6" y2="257.3" stroke="#2b2c2e" stroke-width="1.04" /><line x1="499.4" y1="252.7" x2="511.7" y2="258.8" stroke="#2b2c2e" stroke-width="1.04" /><line x1="499.4" y1="254.7" x2="509.8" y2="259.9" stroke="#2b2c2e" stroke-width="1.04" /><polygon points="540.0,255.3 560.0,248.7 561.0,256.0 540.6,265.0" fill="#f0a91e" /><polygon points="542.9,255.5 559.5,249.8 560.2,254.6 543.3,261.7" fill="#353637" /><line x1="550.6" y1="255.7" x2="559.0" y2="252.5" stroke="#a9bccb" stroke-width="1.4" stroke-dasharray="1.8 1.1"/><polygon points="576.0,257.5 626.0,243.7 647.2,256.2 599.8,271.2" fill="url(#d2lap)" /><polygon points="576.0,257.5 599.8,271.2 599.8,272.7 576.0,259.0" fill="#8f9092" /><polygon points="599.8,271.2 647.2,256.2 647.2,257.6 599.8,272.7" fill="#a2a3a5" /><ellipse cx="612.2" cy="256.6" rx="2.3" ry="1.7" fill="#f4f4f4"/><path d="M644.8,213.0 L645.4,229.0 Q653.2,234.5 661.0,229.0 L661.6,213.0 Z" fill="url(#d2cup)"/><ellipse cx="653.2" cy="213.0" rx="8.4" ry="3.2" fill="#48494a"/><rect x="646.1" y="198.8" width="4.0" height="15.2" fill="#f08a1c" transform="rotate(-4 653.2 213.0)"/><rect x="650.7" y="200.2" width="4.2" height="13.8" fill="#1fb5c9"/><rect x="654.5" y="202.3" width="2.3" height="11.7" fill="#e8c12a"/><rect x="656.6" y="198.0" width="3.2" height="16.0" fill="#3b9e7e" transform="rotate(3 653.2 213.0)"/><rect x="656.6" y="197.0" width="3.2" height="3.4" fill="#e55aa6" transform="rotate(3 653.2 213.0)"/><ellipse cx="636.5" cy="226.5" rx="4.4" ry="1.8" fill="#e3e4e6" stroke="#cacbcd" stroke-width=".6"/><g transform="translate(615.3 176.5) scale(0.85)"><path d="M0,4 Q9,-2 13.5,9 Q16.5,19 12,26" fill="none" stroke="#ece04e" stroke-width="2.8" stroke-linecap="round"/><rect x="7" y="21" width="7" height="8.5" rx="2.2" fill="#e6d63a" transform="rotate(22 10 25)"/><line x1="-0.8" y1="15.0" x2="5.5" y2="17.2" stroke="#27282a" stroke-width="1.3" /><line x1="-1.6" y1="17.3" x2="5.9" y2="19.5" stroke="#27282a" stroke-width="1.3" /><line x1="-2.5" y1="19.6" x2="6.3" y2="21.8" stroke="#27282a" stroke-width="1.3" /><line x1="-2.5" y1="21.9" x2="6.3" y2="24.1" stroke="#27282a" stroke-width="1.3" /><line x1="-1.6" y1="24.2" x2="5.9" y2="26.4" stroke="#27282a" stroke-width="1.3" /><line x1="-0.8" y1="26.5" x2="5.5" y2="28.7" stroke="#27282a" stroke-width="1.3" /></g></g><!--/DESK2-->
<!--DESK3--><defs><linearGradient id="d3m" gradientUnits="userSpaceOnUse" x1="100" y1="0" x2="170" y2="0"><stop offset="0" stop-color="#515254"/><stop offset="1" stop-color="#313234"/></linearGradient><linearGradient id="d3pf" gradientUnits="userSpaceOnUse" x1="169" y1="0" x2="224" y2="0"><stop offset="0" stop-color="#252628"/><stop offset="1" stop-color="#313234"/></linearGradient><linearGradient id="d3m2" gradientUnits="userSpaceOnUse" x1="250" y1="0" x2="294" y2="0"><stop offset="0" stop-color="#4c4d4f"/><stop offset="1" stop-color="#2f3032"/></linearGradient><linearGradient id="d3r" gradientUnits="userSpaceOnUse" x1="293" y1="0" x2="351" y2="0"><stop offset="0" stop-color="#242526"/><stop offset="1" stop-color="#333436"/></linearGradient><linearGradient id="d3p" gradientUnits="userSpaceOnUse" x1="351.7" y1="0" x2="357" y2="0"><stop offset="0" stop-color="#565759"/><stop offset="0.45" stop-color="#4b4c4e"/><stop offset="0.55" stop-color="#37383a"/><stop offset="1" stop-color="#2f3032"/></linearGradient><linearGradient id="d3mq" gradientUnits="userSpaceOnUse" x1="224" y1="0" x2="229.6" y2="0"><stop offset="0" stop-color="#5f6062"/><stop offset="0.35" stop-color="#464749"/><stop offset="1" stop-color="#2d2e30"/></linearGradient><linearGradient id="d3f1t" gradientUnits="userSpaceOnUse" x1="74.9" y1="699.2" x2="117.02000000000001" y2="712.6899999999999"><stop offset="0" stop-color="#7d7e80"/><stop offset="0.55" stop-color="#b4b5b7"/><stop offset="1" stop-color="#e5e6e8"/></linearGradient><linearGradient id="d3f1" gradientUnits="userSpaceOnUse" x1="74.9" y1="0" x2="121.7" y2="0"><stop offset="0" stop-color="#f3f3f4"/><stop offset="1" stop-color="#e7e8ea"/></linearGradient><linearGradient id="d3f2t" gradientUnits="userSpaceOnUse" x1="231" y1="656.5" x2="264.75" y2="671.625"><stop offset="0" stop-color="#7d7e80"/><stop offset="0.55" stop-color="#b4b5b7"/><stop offset="1" stop-color="#e5e6e8"/></linearGradient><linearGradient id="d3f2" gradientUnits="userSpaceOnUse" x1="231" y1="0" x2="268.5" y2="0"><stop offset="0" stop-color="#f3f3f4"/><stop offset="1" stop-color="#e7e8ea"/></linearGradient><linearGradient id="d3l" gradientUnits="userSpaceOnUse" x1="0" y1="670" x2="0" y2="790"><stop offset="0" stop-color="#4d4e50"/><stop offset="1" stop-color="#636466"/></linearGradient><linearGradient id="d3q" gradientUnits="userSpaceOnUse" x1="67.5" y1="0" x2="73.2" y2="0"><stop offset="0" stop-color="#656668"/><stop offset="0.45" stop-color="#515254"/><stop offset="1" stop-color="#3d3e40"/></linearGradient><linearGradient id="d3lap" gradientUnits="userSpaceOnUse" x1="111" y1="0" x2="167" y2="0"><stop offset="0" stop-color="#cbcccd"/><stop offset="1" stop-color="#b8b9ba"/></linearGradient><linearGradient id="d3cup" gradientUnits="userSpaceOnUse" x1="171.3" y1="0" x2="184.7" y2="0"><stop offset="0" stop-color="#5e5f60"/><stop offset="0.5" stop-color="#7b7c7d"/><stop offset="1" stop-color="#575859"/></linearGradient><linearGradient id="d3scr" gradientUnits="userSpaceOnUse" x1="237.8978" y1="0" x2="267.8462" y2="0"><stop offset="0" stop-color="#8fd0ee"/><stop offset="0.45" stop-color="#2f9fe0"/><stop offset="1" stop-color="#0f6fd0"/></linearGradient></defs><g id="desk3"><polygon points="18.7,627.4 170.9,593.7 170.9,650.0 22.0,690.0" fill="#444547" /><polygon points="18.7,627.4 170.9,593.7 170.9,595.6 20.0,629.6" fill="#7f8082" /><polygon points="24.0,630.8 167.0,599.0 167.0,620.5 24.0,652.5" fill="#f5f6f6" /><line x1="24.0" y1="632.8" x2="167.0" y2="600.9" stroke="#cacbcc" stroke-width="0.7" /><line x1="24.0" y1="634.8" x2="167.0" y2="602.9" stroke="#cacbcc" stroke-width="0.7" /><line x1="24.0" y1="636.7" x2="167.0" y2="604.8" stroke="#cacbcc" stroke-width="0.7" /><line x1="24.0" y1="638.7" x2="167.0" y2="606.8" stroke="#cacbcc" stroke-width="0.7" /><line x1="24.0" y1="640.7" x2="167.0" y2="608.8" stroke="#cacbcc" stroke-width="0.7" /><line x1="24.0" y1="642.6" x2="167.0" y2="610.7" stroke="#cacbcc" stroke-width="0.7" /><line x1="24.0" y1="644.6" x2="167.0" y2="612.7" stroke="#cacbcc" stroke-width="0.7" /><line x1="24.0" y1="646.6" x2="167.0" y2="614.6" stroke="#cacbcc" stroke-width="0.7" /><line x1="24.0" y1="648.6" x2="167.0" y2="616.6" stroke="#cacbcc" stroke-width="0.7" /><line x1="24.0" y1="650.5" x2="167.0" y2="618.5" stroke="#cacbcc" stroke-width="0.7" /><polygon points="172.0,594.0 294.7,565.0 294.7,610.0 172.0,640.0" fill="#444547" /><polygon points="172.0,594.2 294.7,565.0 294.7,566.9 172.0,596.2" fill="#7f8082" /><polygon points="175.0,598.0 291.5,570.2 291.5,587.5 175.0,617.0" fill="#f5f6f6" /><line x1="175.0" y1="599.9" x2="291.5" y2="571.9" stroke="#cacbcc" stroke-width="0.7" /><line x1="175.0" y1="601.8" x2="291.5" y2="573.6" stroke="#cacbcc" stroke-width="0.7" /><line x1="175.0" y1="603.7" x2="291.5" y2="575.4" stroke="#cacbcc" stroke-width="0.7" /><line x1="175.0" y1="605.6" x2="291.5" y2="577.1" stroke="#cacbcc" stroke-width="0.7" /><line x1="175.0" y1="607.5" x2="291.5" y2="578.8" stroke="#cacbcc" stroke-width="0.7" /><line x1="175.0" y1="609.4" x2="291.5" y2="580.6" stroke="#cacbcc" stroke-width="0.7" /><line x1="175.0" y1="611.3" x2="291.5" y2="582.3" stroke="#cacbcc" stroke-width="0.7" /><line x1="175.0" y1="613.2" x2="291.5" y2="584.0" stroke="#cacbcc" stroke-width="0.7" /><line x1="175.0" y1="615.1" x2="291.5" y2="585.8" stroke="#cacbcc" stroke-width="0.7" /><polygon points="294.7,565.0 357.0,586.0 357.0,630.0 294.7,610.0" fill="#3b3c3e" /><polygon points="294.7,565.0 357.0,586.0 355.4,587.6 294.7,567.0" fill="#2d2e30" /><polygon points="299.4,571.0 351.7,588.6 351.7,606.3 299.4,589.4" fill="#f3f4f4" /><line x1="299.4" y1="573.0" x2="351.7" y2="590.6" stroke="#d4d5d6" stroke-width="0.7" /><line x1="299.4" y1="575.1" x2="351.7" y2="592.5" stroke="#d4d5d6" stroke-width="0.7" /><line x1="299.4" y1="577.1" x2="351.7" y2="594.5" stroke="#d4d5d6" stroke-width="0.7" /><line x1="299.4" y1="579.2" x2="351.7" y2="596.5" stroke="#d4d5d6" stroke-width="0.7" /><line x1="299.4" y1="581.2" x2="351.7" y2="598.4" stroke="#d4d5d6" stroke-width="0.7" /><line x1="299.4" y1="583.3" x2="351.7" y2="600.4" stroke="#d4d5d6" stroke-width="0.7" /><line x1="299.4" y1="585.3" x2="351.7" y2="602.4" stroke="#d4d5d6" stroke-width="0.7" /><line x1="299.4" y1="587.4" x2="351.7" y2="604.3" stroke="#d4d5d6" stroke-width="0.7" /><polygon points="299.4,592.0 351.7,609.5 351.7,620.4 299.4,604.0" fill="#f4f4f4" /><polygon points="30.0,660.0 56.0,646.8 167.0,622.5 171.0,640.0 226.0,657.0 74.9,700.5 50.0,690.0" fill="#fcfcfc" /><polygon points="56.0,647.5 167.0,623.0 167.0,628.5 68.0,651.5" fill="#f5f5f5" /><line x1="70.0" y1="653.0" x2="167.0" y2="629.5" stroke="#e3e4e6" stroke-width="0.8" /><polygon points="180.0,625.0 291.5,595.0 299.7,606.0 351.0,621.5 231.0,657.0 200.0,650.0" fill="#fcfcfc" /><polygon points="185.0,617.0 291.5,590.0 291.5,601.0 200.0,626.0" fill="#f6f6f6" /><line x1="204.0" y1="627.6" x2="291.5" y2="602.0" stroke="#e3e4e6" stroke-width="0.8" /><line x1="299.7" y1="606.5" x2="350.3" y2="622.3" stroke="#e2e3e4" stroke-width="0.8" /><polygon points="74.9,697.5 224.0,657.5 224.0,661.0 74.9,701.2" fill="#f1f1f2" /><polygon points="231.0,654.5 351.5,620.0 351.5,624.0 231.0,658.5" fill="#f1f1f2" /><polygon points="90.0,697.5 169.0,676.5 169.0,707.6 90.0,729.0" fill="url(#d3m)" /><polygon points="90.0,719.5 169.0,699.0 169.0,707.6 90.0,729.0" fill="#232426" /><polygon points="168.4,676.6 224.0,660.8 224.0,736.5 168.4,707.4" fill="url(#d3pf)" /><polygon points="168.4,701.5 224.0,730.5 224.0,736.5 168.4,707.4" fill="#1c1d1f" /><polygon points="245.0,655.0 293.5,641.2 293.5,668.8 245.0,681.0" fill="url(#d3m2)" /><polygon points="245.0,673.5 293.5,661.5 293.5,668.8 245.0,681.0" fill="#222325" /><polygon points="293.5,641.0 351.0,624.3 351.0,694.0 293.5,668.7" fill="url(#d3r)" /><polygon points="293.5,663.0 351.0,688.0 351.0,694.0 293.5,668.7" fill="#1c1d1f" /><polygon points="291.3,566.0 294.7,565.0 298.3,566.2 298.3,597.0 291.3,595.0" fill="#4c4d4f" /><polygon points="168.0,594.8 170.9,593.7 172.4,594.4 172.4,632.0 168.0,630.6" fill="#3b3c3e" /><path d="M351.7,589.4 Q351.7,585.6 354.6,586.2 Q357,587 357,590 L356,696 L353.8,697.6 L351.4,693.8 Z" fill="url(#d3p)"/><polygon points="171.0,594.6 229.0,618.4 229.0,657.0 171.0,640.0" fill="#3b3c3e" /><polygon points="174.7,600.0 224.0,622.8 224.0,642.0 174.7,620.4" fill="#f3f4f4" /><line x1="174.7" y1="602.3" x2="224.0" y2="624.9" stroke="#cecfd0" stroke-width="0.7" /><line x1="174.7" y1="604.5" x2="224.0" y2="627.1" stroke="#cecfd0" stroke-width="0.7" /><line x1="174.7" y1="606.8" x2="224.0" y2="629.2" stroke="#cecfd0" stroke-width="0.7" /><line x1="174.7" y1="609.1" x2="224.0" y2="631.3" stroke="#cecfd0" stroke-width="0.7" /><line x1="174.7" y1="611.3" x2="224.0" y2="633.5" stroke="#cecfd0" stroke-width="0.7" /><line x1="174.7" y1="613.6" x2="224.0" y2="635.6" stroke="#cecfd0" stroke-width="0.7" /><line x1="174.7" y1="615.9" x2="224.0" y2="637.7" stroke="#cecfd0" stroke-width="0.7" /><line x1="174.7" y1="618.1" x2="224.0" y2="639.9" stroke="#cecfd0" stroke-width="0.7" /><polygon points="174.7,622.4 224.0,644.0 224.0,655.4 173.0,639.4" fill="#f1f1f2" /><polygon points="170.6,594.2 173.4,592.8 229.4,617.0 226.6,619.4 224.0,622.8 174.7,600.0" fill="#303132" /><polygon points="170.6,594.2 173.4,592.8 229.4,617.0 227.0,618.0 172.4,595.4" fill="#67686a" /><path d="M224,621.4 Q224,616.8 226.8,616.8 Q229.6,616.8 229.6,621 L230.6,738 L228,740 L224.2,736.5 Z" fill="url(#d3mq)"/><polygon points="74.9,701.2 108.5,693.2 121.7,705.4 74.9,717.4" fill="url(#d3f1t)" /><polygon points="74.9,717.4 121.7,705.4 121.7,768.5 74.9,782.2" fill="url(#d3f1)" /><line x1="121.7" y1="705.4" x2="121.7" y2="768.5" stroke="#c5c6c8" stroke-width="1" /><line x1="74.9" y1="739.8" x2="121.7" y2="726.9" stroke="#bfc0c2" stroke-width="1" /><line x1="74.9" y1="760.3" x2="121.7" y2="746.5" stroke="#bfc0c2" stroke-width="1" /><line x1="90.0" y1="724.9" x2="105.3" y2="721.1" stroke="#1d1e20" stroke-width="2.03" stroke-linecap="round"/><line x1="90.0" y1="724.9" x2="93.1" y2="724.1" stroke="#1d1e20" stroke-width="2.96" stroke-linecap="round"/><line x1="102.2" y1="721.9" x2="105.3" y2="721.1" stroke="#1d1e20" stroke-width="2.96" stroke-linecap="round"/><line x1="94.0" y1="722.0" x2="101.3" y2="720.1" stroke="#c4c5c6" stroke-width="0.78" /><line x1="90.0" y1="746.0" x2="105.3" y2="742.3" stroke="#1d1e20" stroke-width="2.03" stroke-linecap="round"/><line x1="90.0" y1="746.0" x2="93.1" y2="745.3" stroke="#1d1e20" stroke-width="2.96" stroke-linecap="round"/><line x1="102.2" y1="743.0" x2="105.3" y2="742.3" stroke="#1d1e20" stroke-width="2.96" stroke-linecap="round"/><line x1="94.0" y1="743.1" x2="101.3" y2="741.3" stroke="#c4c5c6" stroke-width="0.78" /><line x1="90.0" y1="766.0" x2="105.3" y2="761.8" stroke="#1d1e20" stroke-width="2.03" stroke-linecap="round"/><line x1="90.0" y1="766.0" x2="93.1" y2="765.2" stroke="#1d1e20" stroke-width="2.96" stroke-linecap="round"/><line x1="102.2" y1="762.6" x2="105.3" y2="761.8" stroke="#1d1e20" stroke-width="2.96" stroke-linecap="round"/><line x1="94.0" y1="763.0" x2="101.3" y2="760.9" stroke="#c4c5c6" stroke-width="0.78" /><circle cx="118.0" cy="710.6" r="1.6" fill="#222"/><circle cx="118.3" cy="714.8" r="1.2" fill="#ddd" stroke="#999" stroke-width=".5"/><ellipse cx="114.8" cy="771.2" rx="2.5" ry="2.1" fill="#292a2c"/><rect x="76" y="781.5" width="2.6" height="4" fill="#292a2c"/><polygon points="231.0,658.5 254.8,653.0 268.5,664.2 231.0,675.0" fill="url(#d3f2t)" /><polygon points="231.0,675.0 268.5,664.2 268.5,721.0 231.0,733.5" fill="url(#d3f2)" /><line x1="268.5" y1="664.2" x2="268.5" y2="721.0" stroke="#c5c6c8" stroke-width="1" /><line x1="231.0" y1="695.0" x2="268.5" y2="683.0" stroke="#bfc0c2" stroke-width="1" /><line x1="231.0" y1="714.0" x2="268.5" y2="702.3" stroke="#bfc0c2" stroke-width="1" /><line x1="240.0" y1="682.4" x2="254.8" y2="678.7" stroke="#1d1e20" stroke-width="1.62" stroke-linecap="round"/><line x1="240.0" y1="682.4" x2="243.0" y2="681.7" stroke="#1d1e20" stroke-width="2.38" stroke-linecap="round"/><line x1="251.8" y1="679.4" x2="254.8" y2="678.7" stroke="#1d1e20" stroke-width="2.38" stroke-linecap="round"/><line x1="243.8" y1="679.9" x2="251.0" y2="678.1" stroke="#c4c5c6" stroke-width="0.62" /><line x1="240.0" y1="701.0" x2="254.8" y2="697.9" stroke="#1d1e20" stroke-width="1.62" stroke-linecap="round"/><line x1="240.0" y1="701.0" x2="243.0" y2="700.4" stroke="#1d1e20" stroke-width="2.38" stroke-linecap="round"/><line x1="251.8" y1="698.5" x2="254.8" y2="697.9" stroke="#1d1e20" stroke-width="2.38" stroke-linecap="round"/><line x1="243.8" y1="698.6" x2="251.0" y2="697.1" stroke="#c4c5c6" stroke-width="0.62" /><line x1="240.0" y1="719.6" x2="255.0" y2="715.0" stroke="#1d1e20" stroke-width="1.62" stroke-linecap="round"/><line x1="240.0" y1="719.6" x2="243.0" y2="718.7" stroke="#1d1e20" stroke-width="2.38" stroke-linecap="round"/><line x1="252.0" y1="715.9" x2="255.0" y2="715.0" stroke="#1d1e20" stroke-width="2.38" stroke-linecap="round"/><line x1="243.9" y1="716.8" x2="251.1" y2="714.6" stroke="#c4c5c6" stroke-width="0.62" /><circle cx="265.8" cy="669.2" r="1.6" fill="#222"/><circle cx="266.1" cy="673.4" r="1.2" fill="#ddd" stroke="#999" stroke-width=".5"/><ellipse cx="262.3" cy="724.3" rx="2.5" ry="2.1" fill="#292a2c"/><polygon points="18.7,627.4 68.0,653.0 68.0,787.0 23.7,753.5" fill="#47484a" /><polygon points="23.5,669.5 67.5,699.5 67.5,781.5 27.5,751.0" fill="url(#d3l)" /><polygon points="22.0,658.2 67.5,683.4 67.5,697.8 22.5,667.8" fill="#eeeeef" /><polygon points="22.0,656.2 67.5,680.8 67.5,683.4 22.0,658.2" fill="#47484a" /><polygon points="23.4,634.2 67.4,658.2 67.4,680.8 23.4,656.2" fill="#f2f3f3" /><line x1="23.4" y1="636.4" x2="67.4" y2="660.5" stroke="#cacbcc" stroke-width="0.7" /><line x1="23.4" y1="638.6" x2="67.4" y2="662.7" stroke="#cacbcc" stroke-width="0.7" /><line x1="23.4" y1="640.8" x2="67.4" y2="665.0" stroke="#cacbcc" stroke-width="0.7" /><line x1="23.4" y1="643.0" x2="67.4" y2="667.2" stroke="#cacbcc" stroke-width="0.7" /><line x1="23.4" y1="645.2" x2="67.4" y2="669.5" stroke="#cacbcc" stroke-width="0.7" /><line x1="23.4" y1="647.4" x2="67.4" y2="671.8" stroke="#cacbcc" stroke-width="0.7" /><line x1="23.4" y1="649.6" x2="67.4" y2="674.0" stroke="#cacbcc" stroke-width="0.7" /><line x1="23.4" y1="651.8" x2="67.4" y2="676.3" stroke="#cacbcc" stroke-width="0.7" /><line x1="23.4" y1="654.0" x2="67.4" y2="678.5" stroke="#cacbcc" stroke-width="0.7" /><polygon points="18.7,627.4 22.5,626.4 72.6,654.8 70.0,657.5 67.4,658.2 23.4,634.2" fill="#343536" /><polygon points="18.7,627.4 22.5,626.4 72.6,654.8 69.6,655.6 20.5,629.6" fill="#5f6062" /><polygon points="18.7,627.4 23.4,635.0 27.2,751.4 23.7,753.5" fill="#47484a" /><path d="M67.4,659.5 Q67.4,655 70,655 Q72.6,655 72.6,659 L73.6,790.5 L71.4,792.5 L67.9,787.5 Z" fill="url(#d3q)"/><line x1="48.8" y1="654.5" x2="57.6" y2="659.2" stroke="#2b2c2e" stroke-width="0.88" /><line x1="47.2" y1="655.4" x2="57.6" y2="660.9" stroke="#2b2c2e" stroke-width="0.88" /><line x1="46.4" y1="656.6" x2="57.6" y2="662.6" stroke="#2b2c2e" stroke-width="0.88" /><line x1="46.4" y1="658.3" x2="56.8" y2="663.8" stroke="#2b2c2e" stroke-width="0.88" /><line x1="46.4" y1="660.0" x2="55.2" y2="664.7" stroke="#2b2c2e" stroke-width="0.88" /><polygon points="76.0,660.6 97.3,655.6 98.5,662.3 77.3,668.0" fill="#f0a91e" /><polygon points="79.1,660.8 96.8,656.6 97.6,661.0 80.0,665.6" fill="#353637" /><line x1="87.5" y1="661.2" x2="96.3" y2="659.0" stroke="#a9bccb" stroke-width="1.4" stroke-dasharray="1.8 1.1"/><polygon points="111.0,661.0 151.0,651.0 167.0,661.0 127.2,671.8" fill="url(#d3lap)" /><polygon points="111.0,661.0 127.2,671.8 127.2,673.3 111.0,662.5" fill="#8f9092" /><polygon points="127.2,671.8 167.0,661.0 167.0,662.4 127.2,673.3" fill="#a2a3a5" /><ellipse cx="139.1" cy="660.7" rx="2.3" ry="1.7" fill="#f4f4f4"/><path d="M171.3,626.4 L171.9,637.4 Q178.0,642.9 184.1,637.4 L184.7,626.4 Z" fill="url(#d3cup)"/><ellipse cx="178.0" cy="626.4" rx="6.7" ry="2.5" fill="#48494a"/><rect x="172.3" y="614.4" width="3.4" height="13.0" fill="#f08a1c" transform="rotate(-4 178.0 626.4)"/><rect x="176.0" y="615.6" width="3.5" height="11.8" fill="#1fb5c9"/><rect x="179.0" y="617.4" width="1.9" height="10.0" fill="#e8c12a"/><rect x="180.7" y="613.8" width="2.7" height="13.6" fill="#3b9e7e" transform="rotate(3 178.0 626.4)"/><rect x="180.7" y="613.0" width="2.7" height="2.9" fill="#e55aa6" transform="rotate(3 178.0 626.4)"/><ellipse cx="166" cy="637.2" rx="3.6" ry="1.5" fill="#e3e4e6" stroke="#cacbcd" stroke-width=".6"/><g transform="translate(147.5 596.5) scale(0.74)"><path d="M0,4 Q9,-2 13.5,9 Q16.5,19 12,26" fill="none" stroke="#ece04e" stroke-width="2.8" stroke-linecap="round"/><rect x="7" y="21" width="7" height="8.5" rx="2.2" fill="#e6d63a" transform="rotate(22 10 25)"/><line x1="-0.8" y1="15.0" x2="5.5" y2="17.2" stroke="#27282a" stroke-width="1.3" /><line x1="-1.6" y1="17.3" x2="5.9" y2="19.5" stroke="#27282a" stroke-width="1.3" /><line x1="-2.5" y1="19.6" x2="6.3" y2="21.8" stroke="#27282a" stroke-width="1.3" /><line x1="-2.5" y1="21.9" x2="6.3" y2="24.1" stroke="#27282a" stroke-width="1.3" /><line x1="-1.6" y1="24.2" x2="5.9" y2="26.4" stroke="#27282a" stroke-width="1.3" /><line x1="-0.8" y1="26.5" x2="5.5" y2="28.7" stroke="#27282a" stroke-width="1.3" /></g><polygon points="239.9,626.0 273.5,617.3 292.2,626.0 257.3,636.0" fill="#c8c9ca" /><polygon points="257.3,636.0 292.2,626.0 292.2,627.2 257.3,637.2" fill="#9a9b9c" /><polygon points="244.0,626.1 272.3,618.7 282.0,623.3 253.1,631.2" fill="#464749" /><polygon points="236.0,601.0 269.3,592.4 272.8,616.0 239.9,624.8" fill="#2c2d2f" /><polygon points="237.9,602.0 267.8,594.2 270.9,614.6 241.2,622.5" fill="url(#d3scr)" /><polygon points="238.5,601.8 246.9,599.7 250.1,620.1 241.8,622.3" fill="#d9eef8" /><polygon points="240.1,604.0 246.1,602.4 247.0,608.1 241.0,609.7" fill="#e6503c" /><polygon points="241.2,610.7 244.2,610.0 245.0,615.1 242.0,615.8" fill="#f4b62a" /><polygon points="244.5,609.9 247.4,609.1 248.3,614.2 245.3,615.0" fill="#3bb273" /><polygon points="242.2,616.7 248.4,615.0 249.0,618.7 242.7,620.3" fill="#2d7be0" /><polygon points="256.2,603.6 262.8,601.9 263.8,608.4 257.2,610.1" fill="#7cc4f2" /><polygon points="279.0,600.6 296.4,594.5 307.0,600.0 307.0,608.0 289.6,613.0 279.0,608.5" fill="#d8b98c" /><polygon points="280.4,592.8 293.0,590.5 295.2,604.0 283.5,608.0" fill="#f7f7f7" /><polygon points="282.9,597.2 288.0,595.5 290.2,601.8 285.2,604.5" fill="#2b2c2e" /><polygon points="286.8,595.0 291.9,593.6 293.0,598.1 288.5,600.0" fill="#e8c12a" /><polygon points="284.6,602.2 288.5,600.9 289.6,604.0 285.7,605.8" fill="#d23b6a" /><polygon points="295.8,597.2 298.0,591.6 299.2,597.2" fill="#2c2d2e" /><polygon points="295.8,597.7 307.0,600.0 307.0,608.0 295.8,610.8" fill="#caa878" /><line x1="300.8" y1="598.6" x2="302.5" y2="591.0" stroke="#e0a23a" stroke-width="1.2" /><line x1="303.1" y1="599.0" x2="304.2" y2="592.3" stroke="#c8863a" stroke-width="1.2" /><polygon points="285.0,621.0 295.0,619.7 301.7,623.7 291.7,626.3" fill="#8a5a34" /></g><!--/DESK3-->
<!--DESK4--><defs><linearGradient id="d4m" gradientUnits="userSpaceOnUse" x1="510" y1="0" x2="565" y2="0"><stop offset="0" stop-color="#515254"/><stop offset="1" stop-color="#313234"/></linearGradient><linearGradient id="d4pf" gradientUnits="userSpaceOnUse" x1="565" y1="0" x2="614" y2="0"><stop offset="0" stop-color="#242526"/><stop offset="1" stop-color="#303133"/></linearGradient><linearGradient id="d4m2" gradientUnits="userSpaceOnUse" x1="635" y1="0" x2="672" y2="0"><stop offset="0" stop-color="#4c4d4f"/><stop offset="1" stop-color="#2f3032"/></linearGradient><linearGradient id="d4r" gradientUnits="userSpaceOnUse" x1="672" y1="0" x2="724" y2="0"><stop offset="0" stop-color="#232426"/><stop offset="1" stop-color="#323335"/></linearGradient><linearGradient id="d4p" gradientUnits="userSpaceOnUse" x1="724.3" y1="0" x2="729.3" y2="0"><stop offset="0" stop-color="#565759"/><stop offset="0.45" stop-color="#4b4c4e"/><stop offset="0.55" stop-color="#37383a"/><stop offset="1" stop-color="#2f3032"/></linearGradient><linearGradient id="d4mq" gradientUnits="userSpaceOnUse" x1="614.4" y1="0" x2="619.4" y2="0"><stop offset="0" stop-color="#5b5c5e"/><stop offset="0.35" stop-color="#3d3e40"/><stop offset="1" stop-color="#28292b"/></linearGradient><linearGradient id="d4f1t" gradientUnits="userSpaceOnUse" x1="486" y1="705.8" x2="522.0" y2="723.59"><stop offset="0" stop-color="#7d7e80"/><stop offset="0.55" stop-color="#b4b5b7"/><stop offset="1" stop-color="#e5e6e8"/></linearGradient><linearGradient id="d4f1" gradientUnits="userSpaceOnUse" x1="486" y1="0" x2="526" y2="0"><stop offset="0" stop-color="#f3f3f4"/><stop offset="1" stop-color="#e7e8ea"/></linearGradient><linearGradient id="d4f2t" gradientUnits="userSpaceOnUse" x1="619.8" y1="669.6" x2="646.8" y2="684.21"><stop offset="0" stop-color="#7d7e80"/><stop offset="0.55" stop-color="#b4b5b7"/><stop offset="1" stop-color="#e5e6e8"/></linearGradient><linearGradient id="d4f2" gradientUnits="userSpaceOnUse" x1="619.8" y1="0" x2="649.8" y2="0"><stop offset="0" stop-color="#f3f3f4"/><stop offset="1" stop-color="#e7e8ea"/></linearGradient><linearGradient id="d4a" gradientUnits="userSpaceOnUse" x1="0" y1="660" x2="0" y2="755"><stop offset="0" stop-color="#4f5052"/><stop offset="1" stop-color="#616264"/></linearGradient><linearGradient id="d4b" gradientUnits="userSpaceOnUse" x1="0" y1="685" x2="0" y2="790"><stop offset="0" stop-color="#4f5052"/><stop offset="1" stop-color="#656668"/></linearGradient><linearGradient id="d4mp" gradientUnits="userSpaceOnUse" x1="433.6" y1="0" x2="437.4" y2="0"><stop offset="0" stop-color="#5f6062"/><stop offset="0.5" stop-color="#4b4c4e"/><stop offset="1" stop-color="#3b3c3e"/></linearGradient><linearGradient id="d4q" gradientUnits="userSpaceOnUse" x1="479.6" y1="0" x2="485.4" y2="0"><stop offset="0" stop-color="#67686a"/><stop offset="0.45" stop-color="#515254"/><stop offset="1" stop-color="#3d3e40"/></linearGradient><linearGradient id="d4lap" gradientUnits="userSpaceOnUse" x1="516" y1="0" x2="565.8" y2="0"><stop offset="0" stop-color="#cbcccd"/><stop offset="1" stop-color="#b8b9ba"/></linearGradient><linearGradient id="d4cup" gradientUnits="userSpaceOnUse" x1="567.6" y1="0" x2="579.8000000000001" y2="0"><stop offset="0" stop-color="#5e5f60"/><stop offset="0.5" stop-color="#7b7c7d"/><stop offset="1" stop-color="#575859"/></linearGradient><linearGradient id="d4scr" gradientUnits="userSpaceOnUse" x1="625.6379999999999" y1="0" x2="651.018" y2="0"><stop offset="0" stop-color="#8fd0ee"/><stop offset="0.45" stop-color="#2f9fe0"/><stop offset="1" stop-color="#0f6fd0"/></linearGradient></defs><g id="desk4"><polygon points="521.0,596.2 565.0,616.4 565.0,645.0 521.0,625.0" fill="#4d4e50" /><polygon points="524.6,601.0 562.0,618.6 562.0,636.0 524.6,621.0" fill="#f3f4f4" /><line x1="524.6" y1="603.5" x2="562.0" y2="620.8" stroke="#cacbcc" stroke-width="0.7" /><line x1="524.6" y1="606.0" x2="562.0" y2="623.0" stroke="#cacbcc" stroke-width="0.7" /><line x1="524.6" y1="608.5" x2="562.0" y2="625.1" stroke="#cacbcc" stroke-width="0.7" /><line x1="524.6" y1="611.0" x2="562.0" y2="627.3" stroke="#cacbcc" stroke-width="0.7" /><line x1="524.6" y1="613.5" x2="562.0" y2="629.5" stroke="#cacbcc" stroke-width="0.7" /><line x1="524.6" y1="616.0" x2="562.0" y2="631.6" stroke="#cacbcc" stroke-width="0.7" /><line x1="524.6" y1="618.5" x2="562.0" y2="633.8" stroke="#cacbcc" stroke-width="0.7" /><polygon points="521.0,596.2 524.7,597.7 524.7,625.0 521.0,626.0" fill="#57585a" /><polygon points="624.8,575.0 673.4,591.2 673.4,622.0 624.8,606.0" fill="#4d4e50" /><polygon points="628.6,580.0 669.7,594.8 669.7,612.0 628.6,600.0" fill="#f3f4f4" /><line x1="628.6" y1="582.5" x2="669.7" y2="596.9" stroke="#cacbcc" stroke-width="0.7" /><line x1="628.6" y1="585.0" x2="669.7" y2="599.1" stroke="#cacbcc" stroke-width="0.7" /><line x1="628.6" y1="587.5" x2="669.7" y2="601.2" stroke="#cacbcc" stroke-width="0.7" /><line x1="628.6" y1="590.0" x2="669.7" y2="603.4" stroke="#cacbcc" stroke-width="0.7" /><line x1="628.6" y1="592.5" x2="669.7" y2="605.5" stroke="#cacbcc" stroke-width="0.7" /><line x1="628.6" y1="595.0" x2="669.7" y2="607.7" stroke="#cacbcc" stroke-width="0.7" /><line x1="628.6" y1="597.5" x2="669.7" y2="609.9" stroke="#cacbcc" stroke-width="0.7" /><polygon points="624.8,575.0 628.6,576.4 628.6,606.0 624.8,607.0" fill="#57585a" /><polygon points="467.3,625.4 514.7,613.7 517.2,615.0 517.2,630.0 467.3,642.0" fill="#404142" /><polygon points="467.3,625.4 514.7,613.7 517.2,615.0 470.0,627.4" fill="#5b5c5e" /><polygon points="593.0,596.5 632.8,588.2 635.0,589.6 635.0,600.0 593.0,611.0" fill="#404142" /><polygon points="593.0,596.5 632.8,588.2 635.0,589.6 595.0,598.2" fill="#5b5c5e" /><polygon points="437.4,644.3 566.0,615.9 566.0,643.4 437.4,676.2" fill="#4b4c4e" /><polygon points="437.4,644.3 566.0,615.9 566.0,617.5 438.8,646.1" fill="#868789" /><polygon points="441.9,646.8 563.0,619.5 563.0,635.8 441.9,667.0" fill="#f4f5f5" /><line x1="441.9" y1="649.0" x2="563.0" y2="621.3" stroke="#d0d1d2" stroke-width="0.7" /><line x1="441.9" y1="651.3" x2="563.0" y2="623.1" stroke="#d0d1d2" stroke-width="0.7" /><line x1="441.9" y1="653.5" x2="563.0" y2="624.9" stroke="#d0d1d2" stroke-width="0.7" /><line x1="441.9" y1="655.8" x2="563.0" y2="626.8" stroke="#d0d1d2" stroke-width="0.7" /><line x1="441.9" y1="658.0" x2="563.0" y2="628.6" stroke="#d0d1d2" stroke-width="0.7" /><line x1="441.9" y1="660.3" x2="563.0" y2="630.4" stroke="#d0d1d2" stroke-width="0.7" /><line x1="441.9" y1="662.5" x2="563.0" y2="632.2" stroke="#d0d1d2" stroke-width="0.7" /><line x1="441.9" y1="664.8" x2="563.0" y2="634.0" stroke="#d0d1d2" stroke-width="0.7" /><clipPath id="d4c1"><polygon points="452.0,600.0 520.0,600.0 520.0,700.0 452.0,700.0" fill="#000" /></clipPath><g clip-path="url(#d4c1)"><line x1="441.9" y1="649.0" x2="563.0" y2="621.3" stroke="#1e1f20" stroke-width="1.6" stroke-dasharray="2.8 1.9" stroke-dashoffset="2.4"/><line x1="441.9" y1="651.3" x2="563.0" y2="623.1" stroke="#1e1f20" stroke-width="1.6" stroke-dasharray="2.8 1.9" stroke-dashoffset="0.0"/><line x1="441.9" y1="653.5" x2="563.0" y2="624.9" stroke="#1e1f20" stroke-width="1.6" stroke-dasharray="2.8 1.9" stroke-dashoffset="2.4"/><line x1="441.9" y1="655.8" x2="563.0" y2="626.8" stroke="#1e1f20" stroke-width="1.6" stroke-dasharray="2.8 1.9" stroke-dashoffset="0.0"/><line x1="441.9" y1="658.0" x2="563.0" y2="628.6" stroke="#1e1f20" stroke-width="1.6" stroke-dasharray="2.8 1.9" stroke-dashoffset="2.4"/><line x1="441.9" y1="660.3" x2="563.0" y2="630.4" stroke="#1e1f20" stroke-width="1.6" stroke-dasharray="2.8 1.9" stroke-dashoffset="0.0"/><line x1="441.9" y1="662.5" x2="563.0" y2="632.2" stroke="#1e1f20" stroke-width="1.6" stroke-dasharray="2.8 1.9" stroke-dashoffset="2.4"/><line x1="441.9" y1="664.8" x2="563.0" y2="634.0" stroke="#1e1f20" stroke-width="1.6" stroke-dasharray="2.8 1.9" stroke-dashoffset="0.0"/></g><polygon points="441.9,667.0 563.0,635.8 563.0,638.2 441.9,669.4" fill="#78797b" /><polygon points="566.2,614.9 673.4,591.2 673.4,616.0 566.2,641.8" fill="#4b4c4e" /><polygon points="566.2,614.9 673.4,591.2 673.4,592.8 567.6,616.7" fill="#868789" /><polygon points="570.7,617.4 670.4,594.8 670.4,607.8 570.7,632.7" fill="#f4f5f5" /><line x1="570.7" y1="619.1" x2="670.4" y2="596.2" stroke="#d0d1d2" stroke-width="0.7" /><line x1="570.7" y1="620.8" x2="670.4" y2="597.7" stroke="#d0d1d2" stroke-width="0.7" /><line x1="570.7" y1="622.5" x2="670.4" y2="599.1" stroke="#d0d1d2" stroke-width="0.7" /><line x1="570.7" y1="624.2" x2="670.4" y2="600.6" stroke="#d0d1d2" stroke-width="0.7" /><line x1="570.7" y1="625.9" x2="670.4" y2="602.0" stroke="#d0d1d2" stroke-width="0.7" /><line x1="570.7" y1="627.6" x2="670.4" y2="603.5" stroke="#d0d1d2" stroke-width="0.7" /><line x1="570.7" y1="629.3" x2="670.4" y2="604.9" stroke="#d0d1d2" stroke-width="0.7" /><line x1="570.7" y1="631.0" x2="670.4" y2="606.4" stroke="#d0d1d2" stroke-width="0.7" /><clipPath id="d4c2"><polygon points="582.0,570.0 636.0,570.0 636.0,680.0 582.0,680.0" fill="#000" /></clipPath><g clip-path="url(#d4c2)"><line x1="570.7" y1="619.1" x2="670.4" y2="596.2" stroke="#1e1f20" stroke-width="1.6" stroke-dasharray="2.8 1.9" stroke-dashoffset="2.4"/><line x1="570.7" y1="620.8" x2="670.4" y2="597.7" stroke="#1e1f20" stroke-width="1.6" stroke-dasharray="2.8 1.9" stroke-dashoffset="0.0"/><line x1="570.7" y1="622.5" x2="670.4" y2="599.1" stroke="#1e1f20" stroke-width="1.6" stroke-dasharray="2.8 1.9" stroke-dashoffset="2.4"/><line x1="570.7" y1="624.2" x2="670.4" y2="600.6" stroke="#1e1f20" stroke-width="1.6" stroke-dasharray="2.8 1.9" stroke-dashoffset="0.0"/><line x1="570.7" y1="625.9" x2="670.4" y2="602.0" stroke="#1e1f20" stroke-width="1.6" stroke-dasharray="2.8 1.9" stroke-dashoffset="2.4"/><line x1="570.7" y1="627.6" x2="670.4" y2="603.5" stroke="#1e1f20" stroke-width="1.6" stroke-dasharray="2.8 1.9" stroke-dashoffset="0.0"/><line x1="570.7" y1="629.3" x2="670.4" y2="604.9" stroke="#1e1f20" stroke-width="1.6" stroke-dasharray="2.8 1.9" stroke-dashoffset="2.4"/><line x1="570.7" y1="631.0" x2="670.4" y2="606.4" stroke="#1e1f20" stroke-width="1.6" stroke-dasharray="2.8 1.9" stroke-dashoffset="0.0"/></g><polygon points="570.7,632.7 670.4,607.8 670.4,610.2 570.7,635.1" fill="#78797b" /><polygon points="673.4,591.2 729.5,609.0 729.5,648.0 673.4,628.0" fill="#3b3c3e" /><polygon points="673.4,591.2 729.5,609.0 728.0,610.6 673.4,593.0" fill="#2d2e30" /><polygon points="678.0,596.0 724.2,611.4 724.2,626.0 678.0,612.4" fill="#f3f4f4" /><line x1="678.0" y1="598.0" x2="724.2" y2="613.2" stroke="#d4d5d6" stroke-width="0.7" /><line x1="678.0" y1="600.1" x2="724.2" y2="615.0" stroke="#d4d5d6" stroke-width="0.7" /><line x1="678.0" y1="602.1" x2="724.2" y2="616.9" stroke="#d4d5d6" stroke-width="0.7" /><line x1="678.0" y1="604.2" x2="724.2" y2="618.7" stroke="#d4d5d6" stroke-width="0.7" /><line x1="678.0" y1="606.2" x2="724.2" y2="620.5" stroke="#d4d5d6" stroke-width="0.7" /><line x1="678.0" y1="608.3" x2="724.2" y2="622.4" stroke="#d4d5d6" stroke-width="0.7" /><line x1="678.0" y1="610.4" x2="724.2" y2="624.2" stroke="#d4d5d6" stroke-width="0.7" /><polygon points="678.0,615.0 724.2,628.7 724.2,638.4 678.0,625.0" fill="#f4f4f4" /><polygon points="445.0,672.0 472.3,660.6 564.6,636.8 568.0,650.0 613.6,669.5 486.0,707.5 460.0,700.0" fill="#fcfcfc" /><polygon points="472.3,661.2 564.6,637.4 564.6,642.4 483.0,665.2" fill="#f5f5f5" /><line x1="485.0" y1="666.8" x2="564.6" y2="643.5" stroke="#e3e4e6" stroke-width="0.8" /><polygon points="580.0,640.0 600.0,626.8 669.7,609.4 678.4,627.0 724.6,639.6 619.8,670.8 600.0,660.0" fill="#fcfcfc" /><polygon points="600.0,627.4 669.7,610.0 669.7,615.0 611.0,632.0" fill="#f5f5f5" /><line x1="613.0" y1="633.5" x2="669.7" y2="616.0" stroke="#e3e4e6" stroke-width="0.8" /><line x1="678.4" y1="627.6" x2="723.3" y2="640.8" stroke="#e2e3e4" stroke-width="0.8" /><polygon points="486.0,704.2 613.6,669.3 613.6,673.0 486.0,707.8" fill="#f1f1f2" /><polygon points="619.8,667.8 725.0,636.8 725.0,640.6 619.8,671.6" fill="#f1f1f2" /><polygon points="500.0,704.0 565.0,686.3 565.0,713.6 500.0,733.0" fill="url(#d4m)" /><polygon points="500.0,724.5 565.0,705.5 565.0,713.6 500.0,733.0" fill="#232426" /><polygon points="564.6,686.4 613.6,673.0 613.6,740.0 564.6,712.6" fill="url(#d4pf)" /><polygon points="564.6,706.5 613.6,734.0 613.6,740.0 564.6,712.6" fill="#1b1c1e" /><polygon points="630.0,670.0 672.2,658.7 672.2,681.2 630.0,691.0" fill="url(#d4m2)" /><polygon points="630.0,684.5 672.2,674.5 672.2,681.2 630.0,691.0" fill="#222325" /><polygon points="672.2,658.6 724.0,643.0 724.0,703.6 672.2,681.2" fill="url(#d4r)" /><polygon points="672.2,675.5 724.0,697.8 724.0,703.6 672.2,681.2" fill="#1b1c1e" /><polygon points="670.6,592.0 673.4,591.2 674.8,592.0 674.8,619.0 670.6,617.6" fill="#343536" /><polygon points="564.2,616.0 566.2,614.9 567.6,615.8 567.6,650.0 564.2,648.6" fill="#343536" /><path d="M724.3,612 Q724.3,608 727,608.6 Q729.3,609.4 729.3,612.5 L728.5,705 L726.4,706.6 L724,703.4 Z" fill="url(#d4p)"/><polygon points="566.5,616.0 618.6,637.6 618.6,672.0 566.5,650.0" fill="#3b3c3e" /><polygon points="571.2,622.0 614.2,640.6 614.2,655.0 571.2,639.5" fill="#f3f4f4" /><line x1="571.2" y1="623.9" x2="614.2" y2="642.2" stroke="#d1d2d4" stroke-width="0.7" /><line x1="571.2" y1="625.9" x2="614.2" y2="643.8" stroke="#d1d2d4" stroke-width="0.7" /><line x1="571.2" y1="627.8" x2="614.2" y2="645.4" stroke="#d1d2d4" stroke-width="0.7" /><line x1="571.2" y1="629.8" x2="614.2" y2="647.0" stroke="#d1d2d4" stroke-width="0.7" /><line x1="571.2" y1="631.7" x2="614.2" y2="648.6" stroke="#d1d2d4" stroke-width="0.7" /><line x1="571.2" y1="633.7" x2="614.2" y2="650.2" stroke="#d1d2d4" stroke-width="0.7" /><line x1="571.2" y1="635.6" x2="614.2" y2="651.8" stroke="#d1d2d4" stroke-width="0.7" /><line x1="571.2" y1="637.6" x2="614.2" y2="653.4" stroke="#d1d2d4" stroke-width="0.7" /><polygon points="571.2,641.4 614.2,657.2 614.2,668.0 569.5,649.5" fill="#f0f0f1" /><polygon points="565.8,615.4 568.6,614.0 619.4,635.4 616.6,637.6 614.2,640.6 571.2,622.0" fill="#303132" /><polygon points="565.8,615.4 568.6,614.0 619.4,635.4 617.0,636.4 567.6,616.4" fill="#67686a" /><path d="M614.4,640 Q614.4,635.6 617,635.6 Q619.4,635.6 619.4,639.5 L619.8,742 L617.6,743.6 L614.4,740 Z" fill="url(#d4mq)"/><polygon points="486.0,707.8 512.2,700.6 526.0,715.4 486.0,726.0" fill="url(#d4f1t)" /><polygon points="486.0,726.0 526.0,715.4 526.0,769.8 486.0,783.5" fill="url(#d4f1)" /><line x1="526.0" y1="715.4" x2="526.0" y2="769.8" stroke="#c5c6c8" stroke-width="1" /><line x1="486.0" y1="744.8" x2="526.0" y2="732.3" stroke="#bfc0c2" stroke-width="1" /><line x1="486.0" y1="762.8" x2="526.0" y2="749.8" stroke="#bfc0c2" stroke-width="1" /><line x1="498.4" y1="731.1" x2="512.2" y2="727.9" stroke="#1d1e20" stroke-width="1.73" stroke-linecap="round"/><line x1="498.4" y1="731.1" x2="501.2" y2="730.5" stroke="#1d1e20" stroke-width="2.53" stroke-linecap="round"/><line x1="509.4" y1="728.5" x2="512.2" y2="727.9" stroke="#1d1e20" stroke-width="2.53" stroke-linecap="round"/><line x1="502.0" y1="728.6" x2="508.6" y2="727.1" stroke="#c4c5c6" stroke-width="0.67" /><line x1="498.4" y1="750.2" x2="512.7" y2="746.2" stroke="#1d1e20" stroke-width="1.73" stroke-linecap="round"/><line x1="498.4" y1="750.2" x2="501.3" y2="749.4" stroke="#1d1e20" stroke-width="2.53" stroke-linecap="round"/><line x1="509.8" y1="747.0" x2="512.7" y2="746.2" stroke="#1d1e20" stroke-width="2.53" stroke-linecap="round"/><line x1="502.1" y1="747.5" x2="509.0" y2="745.6" stroke="#c4c5c6" stroke-width="0.67" /><line x1="498.4" y1="766.6" x2="512.7" y2="762.5" stroke="#1d1e20" stroke-width="1.73" stroke-linecap="round"/><line x1="498.4" y1="766.6" x2="501.3" y2="765.8" stroke="#1d1e20" stroke-width="2.53" stroke-linecap="round"/><line x1="509.8" y1="763.3" x2="512.7" y2="762.5" stroke="#1d1e20" stroke-width="2.53" stroke-linecap="round"/><line x1="502.1" y1="763.9" x2="509.0" y2="761.9" stroke="#c4c5c6" stroke-width="0.67" /><circle cx="523.3" cy="719.2" r="1.6" fill="#222"/><circle cx="523.6" cy="723.4" r="1.2" fill="#ddd" stroke="#999" stroke-width=".5"/><ellipse cx="519.2" cy="771.5" rx="2.5" ry="2.1" fill="#292a2c"/><rect x="487" y="782.5" width="2.5" height="3.6" fill="#292a2c"/><polygon points="619.8,671.6 638.5,666.5 649.8,678.0 619.8,685.4" fill="url(#d4f2t)" /><polygon points="619.8,685.4 649.8,678.0 649.8,726.8 619.8,736.0" fill="url(#d4f2)" /><line x1="649.8" y1="678.0" x2="649.8" y2="726.8" stroke="#c5c6c8" stroke-width="1" /><line x1="619.8" y1="702.4" x2="649.8" y2="693.6" stroke="#bfc0c2" stroke-width="1" /><line x1="619.8" y1="718.6" x2="649.8" y2="709.9" stroke="#bfc0c2" stroke-width="1" /><line x1="628.0" y1="690.3" x2="640.3" y2="688.0" stroke="#1d1e20" stroke-width="1.43" stroke-linecap="round"/><line x1="628.0" y1="690.3" x2="630.5" y2="689.8" stroke="#1d1e20" stroke-width="2.09" stroke-linecap="round"/><line x1="637.8" y1="688.5" x2="640.3" y2="688.0" stroke="#1d1e20" stroke-width="2.09" stroke-linecap="round"/><line x1="631.2" y1="688.3" x2="637.1" y2="687.2" stroke="#c4c5c6" stroke-width="0.55" /><line x1="628.0" y1="707.2" x2="640.3" y2="704.1" stroke="#1d1e20" stroke-width="1.43" stroke-linecap="round"/><line x1="628.0" y1="707.2" x2="630.5" y2="706.6" stroke="#1d1e20" stroke-width="2.09" stroke-linecap="round"/><line x1="637.8" y1="704.7" x2="640.3" y2="704.1" stroke="#1d1e20" stroke-width="2.09" stroke-linecap="round"/><line x1="631.2" y1="705.0" x2="637.1" y2="703.5" stroke="#c4c5c6" stroke-width="0.55" /><line x1="628.0" y1="722.8" x2="640.3" y2="719.8" stroke="#1d1e20" stroke-width="1.43" stroke-linecap="round"/><line x1="628.0" y1="722.8" x2="630.5" y2="722.2" stroke="#1d1e20" stroke-width="2.09" stroke-linecap="round"/><line x1="637.8" y1="720.4" x2="640.3" y2="719.8" stroke="#1d1e20" stroke-width="2.09" stroke-linecap="round"/><line x1="631.2" y1="720.6" x2="637.1" y2="719.2" stroke="#c4c5c6" stroke-width="0.55" /><circle cx="647.6" cy="682.0" r="1.6" fill="#222"/><circle cx="647.9" cy="686.2" r="1.2" fill="#ddd" stroke="#999" stroke-width=".5"/><ellipse cx="643.5" cy="729.3" rx="2.5" ry="2.1" fill="#292a2c"/><polygon points="395.6,622.3 434.6,643.0 434.6,752.5 400.5,726.0" fill="#464749" /><polygon points="399.6,658.0 434.0,678.0 434.0,748.5 403.0,724.5" fill="url(#d4a)" /><polygon points="398.0,647.7 434.0,662.6 434.0,676.6 398.3,656.6" fill="#eeeeef" /><polygon points="399.0,627.7 433.4,646.0 433.4,660.6 399.0,645.4" fill="#f3f4f4" /><line x1="399.0" y1="629.9" x2="433.4" y2="647.8" stroke="#d1d2d4" stroke-width="0.7" /><line x1="399.0" y1="632.1" x2="433.4" y2="649.6" stroke="#d1d2d4" stroke-width="0.7" /><line x1="399.0" y1="634.3" x2="433.4" y2="651.5" stroke="#d1d2d4" stroke-width="0.7" /><line x1="399.0" y1="636.5" x2="433.4" y2="653.3" stroke="#d1d2d4" stroke-width="0.7" /><line x1="399.0" y1="638.8" x2="433.4" y2="655.1" stroke="#d1d2d4" stroke-width="0.7" /><line x1="399.0" y1="641.0" x2="433.4" y2="657.0" stroke="#d1d2d4" stroke-width="0.7" /><line x1="399.0" y1="643.2" x2="433.4" y2="658.8" stroke="#d1d2d4" stroke-width="0.7" /><polygon points="395.6,622.3 398.2,621.5 437.0,642.4 434.6,644.4 433.4,646.0 399.0,627.7" fill="#3d3e40" /><polygon points="395.6,622.3 398.2,621.5 437.0,642.4 435.0,643.4 397.0,623.6" fill="#67686a" /><polygon points="395.6,622.3 398.6,624.6 403.0,724.5 400.5,726.0" fill="#4b4c4e" /><polygon points="437.0,645.0 480.0,669.0 480.0,786.0 440.0,753.5" fill="#464749" /><polygon points="440.6,684.0 479.4,709.0 479.4,781.5 441.4,750.5" fill="url(#d4b)" /><polygon points="438.7,673.7 479.6,693.7 479.6,707.0 438.7,682.3" fill="#eeeeef" /><polygon points="440.0,650.4 479.3,671.2 479.3,691.8 440.0,671.4" fill="#f3f4f4" /><line x1="440.0" y1="652.7" x2="479.3" y2="673.5" stroke="#d1d2d4" stroke-width="0.7" /><line x1="440.0" y1="655.1" x2="479.3" y2="675.8" stroke="#d1d2d4" stroke-width="0.7" /><line x1="440.0" y1="657.4" x2="479.3" y2="678.1" stroke="#d1d2d4" stroke-width="0.7" /><line x1="440.0" y1="659.7" x2="479.3" y2="680.4" stroke="#d1d2d4" stroke-width="0.7" /><line x1="440.0" y1="662.1" x2="479.3" y2="682.6" stroke="#d1d2d4" stroke-width="0.7" /><line x1="440.0" y1="664.4" x2="479.3" y2="684.9" stroke="#d1d2d4" stroke-width="0.7" /><line x1="440.0" y1="666.7" x2="479.3" y2="687.2" stroke="#d1d2d4" stroke-width="0.7" /><line x1="440.0" y1="669.1" x2="479.3" y2="689.5" stroke="#d1d2d4" stroke-width="0.7" /><polygon points="436.4,644.0 439.0,642.8 485.0,667.4 482.0,669.6 479.3,671.2 440.0,650.4" fill="#3d3e40" /><polygon points="436.4,644.0 439.0,642.8 485.0,667.4 482.4,668.4 438.0,645.2" fill="#67686a" /><path d="M433.6,646 Q433.6,642.8 435.4,642.8 Q437.2,642.8 437.2,646 L439.6,753.5 L437.5,755.2 L434.8,753 Z" fill="url(#d4mp)"/><path d="M479.6,672 Q479.6,667.6 482.6,667.6 Q485.4,667.6 485.4,671.6 L486,788 L483.6,789.8 L479.4,785.5 Z" fill="url(#d4q)"/><line x1="462.1" y1="669.6" x2="470.0" y2="673.9" stroke="#2b2c2e" stroke-width="0.79" /><line x1="460.7" y1="670.3" x2="470.0" y2="675.5" stroke="#2b2c2e" stroke-width="0.79" /><line x1="460.0" y1="671.4" x2="470.0" y2="677.0" stroke="#2b2c2e" stroke-width="0.79" /><line x1="460.0" y1="672.9" x2="469.3" y2="678.1" stroke="#2b2c2e" stroke-width="0.79" /><line x1="460.0" y1="674.5" x2="467.9" y2="678.8" stroke="#2b2c2e" stroke-width="0.79" /><polygon points="486.0,673.7 504.2,669.3 505.2,676.0 487.3,681.2" fill="#f0a91e" /><polygon points="488.7,674.0 503.8,670.2 504.4,674.7 489.5,678.8" fill="#353637" /><line x1="495.9" y1="674.6" x2="503.4" y2="672.7" stroke="#a9bccb" stroke-width="1.4" stroke-dasharray="1.8 1.1"/><polygon points="516.0,674.8 549.6,666.0 565.8,674.3 530.9,684.2" fill="url(#d4lap)" /><polygon points="516.0,674.8 530.9,684.2 530.9,685.7 516.0,676.3" fill="#8f9092" /><polygon points="530.9,684.2 565.8,674.3 565.8,675.7 530.9,685.7" fill="#a2a3a5" /><ellipse cx="540.6" cy="674.3" rx="2.3" ry="1.7" fill="#f4f4f4"/><path d="M567.6,644.3 L568.2,653.4 Q573.7,658.9 579.2,653.4 L579.8,644.3 Z" fill="url(#d4cup)"/><ellipse cx="573.7" cy="644.3" rx="6.1" ry="2.3" fill="#48494a"/><rect x="568.5" y="633.0" width="3.2" height="12.2" fill="#f08a1c" transform="rotate(-4 573.7 644.3)"/><rect x="571.9" y="634.2" width="3.3" height="11.1" fill="#1fb5c9"/><rect x="574.6" y="635.9" width="1.8" height="9.4" fill="#e8c12a"/><rect x="576.1" y="632.5" width="2.5" height="12.8" fill="#3b9e7e" transform="rotate(3 573.7 644.3)"/><rect x="576.1" y="631.7" width="2.5" height="2.7" fill="#e55aa6" transform="rotate(3 573.7 644.3)"/><ellipse cx="563" cy="654" rx="3.2" ry="1.4" fill="#e3e4e6" stroke="#cacbcd" stroke-width=".6"/><g transform="translate(546.0 617.5) scale(0.68)"><path d="M0,4 Q9,-2 13.5,9 Q16.5,19 12,26" fill="none" stroke="#ece04e" stroke-width="2.8" stroke-linecap="round"/><rect x="7" y="21" width="7" height="8.5" rx="2.2" fill="#e6d63a" transform="rotate(22 10 25)"/><line x1="-0.8" y1="15.0" x2="5.5" y2="17.2" stroke="#27282a" stroke-width="1.3" /><line x1="-1.6" y1="17.3" x2="5.9" y2="19.5" stroke="#27282a" stroke-width="1.3" /><line x1="-2.5" y1="19.6" x2="6.3" y2="21.8" stroke="#27282a" stroke-width="1.3" /><line x1="-2.5" y1="21.9" x2="6.3" y2="24.1" stroke="#27282a" stroke-width="1.3" /><line x1="-1.6" y1="24.2" x2="5.9" y2="26.4" stroke="#27282a" stroke-width="1.3" /><line x1="-0.8" y1="26.5" x2="5.5" y2="28.7" stroke="#27282a" stroke-width="1.3" /></g><polygon points="627.8,643.5 657.2,636.8 672.2,642.8 642.3,652.3" fill="#c8c9ca" /><polygon points="642.3,652.3 672.2,642.8 672.2,644.0 642.3,653.5" fill="#9a9b9c" /><polygon points="631.3,643.7 656.0,637.8 663.8,641.1 638.9,648.1" fill="#464749" /><polygon points="624.0,621.0 652.2,614.1 656.0,636.0 627.8,642.3" fill="#2c2d2f" /><polygon points="625.6,621.9 651.0,615.8 654.3,634.6 628.9,640.3" fill="url(#d4scr)" /><polygon points="626.1,621.8 633.3,620.1 636.5,638.6 629.4,640.2" fill="#d9eef8" /><polygon points="627.6,623.8 632.6,622.5 633.5,627.7 628.5,628.9" fill="#e6503c" /><polygon points="628.6,629.8 631.2,629.2 632.0,633.8 629.4,634.4" fill="#f4b62a" /><polygon points="631.4,629.2 634.0,628.6 634.8,633.2 632.2,633.8" fill="#3bb273" /><polygon points="629.6,635.2 634.9,633.9 635.5,637.3 630.2,638.5" fill="#2d7be0" /><polygon points="641.3,623.9 646.9,622.6 648.0,628.6 642.4,629.9" fill="#7cc4f2" /><polygon points="660.0,620.6 675.3,615.0 684.7,620.0 684.7,627.4 669.4,632.0 660.0,627.9" fill="#d8b98c" /><polygon points="661.2,613.4 672.4,611.3 674.3,623.7 664.0,627.4" fill="#f7f7f7" /><polygon points="663.5,617.5 667.9,615.9 669.9,621.6 665.4,624.1" fill="#2b2c2e" /><polygon points="666.9,615.4 671.4,614.2 672.4,618.3 668.4,620.0" fill="#e8c12a" /><polygon points="664.9,622.1 668.4,620.8 669.4,623.7 665.9,625.4" fill="#d23b6a" /><polygon points="674.8,617.5 676.8,612.3 677.8,617.5" fill="#2c2d2e" /><polygon points="674.8,617.9 684.7,620.0 684.7,627.4 674.8,629.9" fill="#caa878" /><line x1="679.3" y1="618.8" x2="680.7" y2="611.7" stroke="#e0a23a" stroke-width="1.2" /><line x1="681.2" y1="619.2" x2="682.2" y2="613.0" stroke="#c8863a" stroke-width="1.2" /><polygon points="666.0,639.3 674.0,637.7 680.7,641.7 672.7,643.6" fill="#8a5a34" /></g><!--/DESK4-->
<!--DESK5--><defs><linearGradient id="d5m1" gradientUnits="userSpaceOnUse" x1="100" y1="0" x2="153.4" y2="0"><stop offset="0" stop-color="#4f5052"/><stop offset="1" stop-color="#303132"/></linearGradient><linearGradient id="d5pf1" gradientUnits="userSpaceOnUse" x1="153.4" y1="0" x2="188.3" y2="0"><stop offset="0" stop-color="#242526"/><stop offset="1" stop-color="#313234"/></linearGradient><linearGradient id="d5m2" gradientUnits="userSpaceOnUse" x1="200" y1="0" x2="242.2" y2="0"><stop offset="0" stop-color="#4f5052"/><stop offset="1" stop-color="#303132"/></linearGradient><linearGradient id="d5pf2" gradientUnits="userSpaceOnUse" x1="242.2" y1="0" x2="277.2" y2="0"><stop offset="0" stop-color="#242526"/><stop offset="1" stop-color="#313234"/></linearGradient><linearGradient id="d5m3" gradientUnits="userSpaceOnUse" x1="290" y1="0" x2="315.9" y2="0"><stop offset="0" stop-color="#4f5052"/><stop offset="1" stop-color="#303132"/></linearGradient><linearGradient id="d5pf3" gradientUnits="userSpaceOnUse" x1="315.9" y1="0" x2="353.6" y2="0"><stop offset="0" stop-color="#242526"/><stop offset="1" stop-color="#313234"/></linearGradient><linearGradient id="d5p" gradientUnits="userSpaceOnUse" x1="354" y1="0" x2="358" y2="0"><stop offset="0" stop-color="#565759"/><stop offset="0.45" stop-color="#4b4c4e"/><stop offset="0.55" stop-color="#37383a"/><stop offset="1" stop-color="#2f3032"/></linearGradient><linearGradient id="d5s1" gradientUnits="userSpaceOnUse" x1="186.4" y1="0" x2="192.6" y2="0"><stop offset="0" stop-color="#5b5c5e"/><stop offset="0.3" stop-color="#3b3c3e"/><stop offset="1" stop-color="#27282a"/></linearGradient><linearGradient id="d5s2" gradientUnits="userSpaceOnUse" x1="276.7" y1="0" x2="281.7" y2="0"><stop offset="0" stop-color="#5b5c5e"/><stop offset="0.3" stop-color="#3b3c3e"/><stop offset="1" stop-color="#27282a"/></linearGradient><linearGradient id="d5f1t" gradientUnits="userSpaceOnUse" x1="89.3" y1="1074.6" x2="116.21000000000001" y2="1086.235"><stop offset="0" stop-color="#7d7e80"/><stop offset="0.55" stop-color="#b4b5b7"/><stop offset="1" stop-color="#e5e6e8"/></linearGradient><linearGradient id="d5f1" gradientUnits="userSpaceOnUse" x1="89.3" y1="0" x2="119.2" y2="0"><stop offset="0" stop-color="#f3f3f4"/><stop offset="1" stop-color="#e7e8ea"/></linearGradient><linearGradient id="d5f2t" gradientUnits="userSpaceOnUse" x1="191.9" y1="1047" x2="214.76000000000002" y2="1058.275"><stop offset="0" stop-color="#7d7e80"/><stop offset="0.55" stop-color="#b4b5b7"/><stop offset="1" stop-color="#e5e6e8"/></linearGradient><linearGradient id="d5f2" gradientUnits="userSpaceOnUse" x1="191.9" y1="0" x2="217.3" y2="0"><stop offset="0" stop-color="#f3f3f4"/><stop offset="1" stop-color="#e7e8ea"/></linearGradient><linearGradient id="d5f3t" gradientUnits="userSpaceOnUse" x1="281.7" y1="1023.2" x2="299.61" y2="1031.07"><stop offset="0" stop-color="#7d7e80"/><stop offset="0.55" stop-color="#b4b5b7"/><stop offset="1" stop-color="#e5e6e8"/></linearGradient><linearGradient id="d5f3" gradientUnits="userSpaceOnUse" x1="281.7" y1="0" x2="301.6" y2="0"><stop offset="0" stop-color="#f3f3f4"/><stop offset="1" stop-color="#e7e8ea"/></linearGradient><linearGradient id="d5a" gradientUnits="userSpaceOnUse" x1="0" y1="1040" x2="0" y2="1110"><stop offset="0" stop-color="#494a4c"/><stop offset="1" stop-color="#5b5c5e"/></linearGradient><linearGradient id="d5b" gradientUnits="userSpaceOnUse" x1="0" y1="1060" x2="0" y2="1135"><stop offset="0" stop-color="#4b4c4e"/><stop offset="1" stop-color="#5f6062"/></linearGradient><linearGradient id="d5mp" gradientUnits="userSpaceOnUse" x1="51.3" y1="0" x2="54.4" y2="0"><stop offset="0" stop-color="#5f6062"/><stop offset="0.5" stop-color="#4b4c4e"/><stop offset="1" stop-color="#3b3c3e"/></linearGradient><linearGradient id="d5q" gradientUnits="userSpaceOnUse" x1="84.4" y1="0" x2="88.2" y2="0"><stop offset="0" stop-color="#67686a"/><stop offset="0.45" stop-color="#515254"/><stop offset="1" stop-color="#3d3e40"/></linearGradient><linearGradient id="d5lap" gradientUnits="userSpaceOnUse" x1="113.5" y1="0" x2="150.9" y2="0"><stop offset="0" stop-color="#cbcccd"/><stop offset="1" stop-color="#b8b9ba"/></linearGradient><linearGradient id="d5cup" gradientUnits="userSpaceOnUse" x1="154.8" y1="0" x2="164.0" y2="0"><stop offset="0" stop-color="#5e5f60"/><stop offset="0.5" stop-color="#7b7c7d"/><stop offset="1" stop-color="#575859"/></linearGradient><linearGradient id="d5scr2" gradientUnits="userSpaceOnUse" x1="200.3979" y1="0" x2="220.84410000000003" y2="0"><stop offset="0" stop-color="#8fd0ee"/><stop offset="0.45" stop-color="#2f9fe0"/><stop offset="1" stop-color="#0f6fd0"/></linearGradient><linearGradient id="d5scr3" gradientUnits="userSpaceOnUse" x1="283.2515" y1="0" x2="301.2785" y2="0"><stop offset="0" stop-color="#8fd0ee"/><stop offset="0.45" stop-color="#2f9fe0"/><stop offset="1" stop-color="#0f6fd0"/></linearGradient></defs><g id="desk5"><polygon points="121.0,990.0 153.4,1007.0 153.4,1031.0 121.0,1014.0" fill="#4d4e50" /><polygon points="124.0,995.0 151.7,1010.0 151.7,1022.0 124.0,1009.0" fill="#f3f4f4" /><line x1="124.0" y1="997.0" x2="151.7" y2="1011.7" stroke="#cacbcc" stroke-width="0.7" /><line x1="124.0" y1="999.0" x2="151.7" y2="1013.4" stroke="#cacbcc" stroke-width="0.7" /><line x1="124.0" y1="1001.0" x2="151.7" y2="1015.1" stroke="#cacbcc" stroke-width="0.7" /><line x1="124.0" y1="1003.0" x2="151.7" y2="1016.9" stroke="#cacbcc" stroke-width="0.7" /><line x1="124.0" y1="1005.0" x2="151.7" y2="1018.6" stroke="#cacbcc" stroke-width="0.7" /><line x1="124.0" y1="1007.0" x2="151.7" y2="1020.3" stroke="#cacbcc" stroke-width="0.7" /><polygon points="121.0,990.0 124.0,991.2 124.0,1014.0 121.0,1015.0" fill="#57585a" /><polygon points="206.0,972.0 241.0,984.9 241.0,1008.9 206.0,996.0" fill="#4d4e50" /><polygon points="209.0,976.4 239.8,989.4 239.8,1000.0 209.0,989.0" fill="#f3f4f4" /><line x1="209.0" y1="978.2" x2="239.8" y2="990.9" stroke="#cacbcc" stroke-width="0.7" /><line x1="209.0" y1="980.0" x2="239.8" y2="992.4" stroke="#cacbcc" stroke-width="0.7" /><line x1="209.0" y1="981.8" x2="239.8" y2="993.9" stroke="#cacbcc" stroke-width="0.7" /><line x1="209.0" y1="983.6" x2="239.8" y2="995.5" stroke="#cacbcc" stroke-width="0.7" /><line x1="209.0" y1="985.4" x2="239.8" y2="997.0" stroke="#cacbcc" stroke-width="0.7" /><line x1="209.0" y1="987.2" x2="239.8" y2="998.5" stroke="#cacbcc" stroke-width="0.7" /><polygon points="206.0,972.0 208.6,973.2 208.6,996.0 206.0,997.0" fill="#57585a" /><polygon points="280.2,955.5 315.9,967.4 315.9,991.4 280.2,979.5" fill="#4d4e50" /><polygon points="283.1,959.7 314.0,971.2 314.0,983.0 283.1,972.0" fill="#f3f4f4" /><line x1="283.1" y1="961.5" x2="314.0" y2="972.9" stroke="#cacbcc" stroke-width="0.7" /><line x1="283.1" y1="963.2" x2="314.0" y2="974.6" stroke="#cacbcc" stroke-width="0.7" /><line x1="283.1" y1="965.0" x2="314.0" y2="976.3" stroke="#cacbcc" stroke-width="0.7" /><line x1="283.1" y1="966.7" x2="314.0" y2="977.9" stroke="#cacbcc" stroke-width="0.7" /><line x1="283.1" y1="968.5" x2="314.0" y2="979.6" stroke="#cacbcc" stroke-width="0.7" /><line x1="283.1" y1="970.2" x2="314.0" y2="981.3" stroke="#cacbcc" stroke-width="0.7" /><polygon points="280.2,955.5 283.0,956.7 283.0,979.5 280.2,980.5" fill="#57585a" /><polygon points="76.8,1013.0 113.5,1005.0 115.5,1006.2 115.5,1018.0 76.8,1026.0" fill="#404142" /><polygon points="76.8,1013.0 113.5,1005.0 115.5,1006.2 78.8,1014.6" fill="#5b5c5e" /><polygon points="176.9,991.1 207.3,983.7 209.8,984.9 209.8,994.0 176.9,1002.0" fill="#404142" /><polygon points="176.9,991.1 207.3,983.7 209.8,984.9 178.9,992.7" fill="#5b5c5e" /><polygon points="259.2,972.4 287.1,966.2 289.1,967.5 289.1,975.0 259.2,982.0" fill="#404142" /><polygon points="259.2,972.4 287.1,966.2 289.1,967.5 261.2,974.0" fill="#5b5c5e" /><polygon points="54.9,1029.4 154.0,1006.6 154.0,1032.4 54.9,1056.8" fill="#4b4c4e" /><polygon points="54.9,1029.4 154.0,1006.6 154.0,1008.0 56.3,1031.0" fill="#868789" /><polygon points="59.4,1031.5 151.0,1009.8 151.0,1024.6 59.4,1047.7" fill="#f4f5f5" /><line x1="59.4" y1="1033.3" x2="151.0" y2="1011.4" stroke="#d0d1d2" stroke-width="0.7" /><line x1="59.4" y1="1035.1" x2="151.0" y2="1013.1" stroke="#d0d1d2" stroke-width="0.7" /><line x1="59.4" y1="1036.9" x2="151.0" y2="1014.7" stroke="#d0d1d2" stroke-width="0.7" /><line x1="59.4" y1="1038.7" x2="151.0" y2="1016.4" stroke="#d0d1d2" stroke-width="0.7" /><line x1="59.4" y1="1040.5" x2="151.0" y2="1018.0" stroke="#d0d1d2" stroke-width="0.7" /><line x1="59.4" y1="1042.3" x2="151.0" y2="1019.7" stroke="#d0d1d2" stroke-width="0.7" /><line x1="59.4" y1="1044.1" x2="151.0" y2="1021.3" stroke="#d0d1d2" stroke-width="0.7" /><line x1="59.4" y1="1045.9" x2="151.0" y2="1022.9" stroke="#d0d1d2" stroke-width="0.7" /><clipPath id="d5c1"><polygon points="66.0,990.0 118.0,990.0 118.0,1060.0 66.0,1060.0" fill="#000" /></clipPath><g clip-path="url(#d5c1)"><line x1="59.4" y1="1033.3" x2="151.0" y2="1011.4" stroke="#1e1f20" stroke-width="1.6" stroke-dasharray="2.8 1.9" stroke-dashoffset="2.4"/><line x1="59.4" y1="1035.1" x2="151.0" y2="1013.1" stroke="#1e1f20" stroke-width="1.6" stroke-dasharray="2.8 1.9" stroke-dashoffset="0.0"/><line x1="59.4" y1="1036.9" x2="151.0" y2="1014.7" stroke="#1e1f20" stroke-width="1.6" stroke-dasharray="2.8 1.9" stroke-dashoffset="2.4"/><line x1="59.4" y1="1038.7" x2="151.0" y2="1016.4" stroke="#1e1f20" stroke-width="1.6" stroke-dasharray="2.8 1.9" stroke-dashoffset="0.0"/><line x1="59.4" y1="1040.5" x2="151.0" y2="1018.0" stroke="#1e1f20" stroke-width="1.6" stroke-dasharray="2.8 1.9" stroke-dashoffset="2.4"/><line x1="59.4" y1="1042.3" x2="151.0" y2="1019.7" stroke="#1e1f20" stroke-width="1.6" stroke-dasharray="2.8 1.9" stroke-dashoffset="0.0"/><line x1="59.4" y1="1044.1" x2="151.0" y2="1021.3" stroke="#1e1f20" stroke-width="1.6" stroke-dasharray="2.8 1.9" stroke-dashoffset="2.4"/><line x1="59.4" y1="1045.9" x2="151.0" y2="1022.9" stroke="#1e1f20" stroke-width="1.6" stroke-dasharray="2.8 1.9" stroke-dashoffset="0.0"/></g><polygon points="59.4,1047.7 151.0,1024.6 151.0,1027.0 59.4,1050.1" fill="#78797b" /><polygon points="154.5,1006.4 241.5,984.6 241.5,1006.0 154.5,1026.5" fill="#4b4c4e" /><polygon points="154.5,1006.4 241.5,984.6 241.5,986.0 155.9,1008.0" fill="#868789" /><polygon points="159.0,1008.5 238.5,987.8 238.5,998.3 159.0,1017.4" fill="#f4f5f5" /><line x1="159.0" y1="1009.5" x2="238.5" y2="989.0" stroke="#d0d1d2" stroke-width="0.7" /><line x1="159.0" y1="1010.5" x2="238.5" y2="990.1" stroke="#d0d1d2" stroke-width="0.7" /><line x1="159.0" y1="1011.5" x2="238.5" y2="991.3" stroke="#d0d1d2" stroke-width="0.7" /><line x1="159.0" y1="1012.5" x2="238.5" y2="992.5" stroke="#d0d1d2" stroke-width="0.7" /><line x1="159.0" y1="1013.5" x2="238.5" y2="993.6" stroke="#d0d1d2" stroke-width="0.7" /><line x1="159.0" y1="1014.5" x2="238.5" y2="994.8" stroke="#d0d1d2" stroke-width="0.7" /><line x1="159.0" y1="1015.5" x2="238.5" y2="996.0" stroke="#d0d1d2" stroke-width="0.7" /><line x1="159.0" y1="1016.5" x2="238.5" y2="997.1" stroke="#d0d1d2" stroke-width="0.7" /><clipPath id="d5c2"><polygon points="169.0,960.0 212.0,960.0 212.0,1040.0 169.0,1040.0" fill="#000" /></clipPath><g clip-path="url(#d5c2)"><line x1="159.0" y1="1009.5" x2="238.5" y2="989.0" stroke="#1e1f20" stroke-width="1.6" stroke-dasharray="2.8 1.9" stroke-dashoffset="2.4"/><line x1="159.0" y1="1010.5" x2="238.5" y2="990.1" stroke="#1e1f20" stroke-width="1.6" stroke-dasharray="2.8 1.9" stroke-dashoffset="0.0"/><line x1="159.0" y1="1011.5" x2="238.5" y2="991.3" stroke="#1e1f20" stroke-width="1.6" stroke-dasharray="2.8 1.9" stroke-dashoffset="2.4"/><line x1="159.0" y1="1012.5" x2="238.5" y2="992.5" stroke="#1e1f20" stroke-width="1.6" stroke-dasharray="2.8 1.9" stroke-dashoffset="0.0"/><line x1="159.0" y1="1013.5" x2="238.5" y2="993.6" stroke="#1e1f20" stroke-width="1.6" stroke-dasharray="2.8 1.9" stroke-dashoffset="2.4"/><line x1="159.0" y1="1014.5" x2="238.5" y2="994.8" stroke="#1e1f20" stroke-width="1.6" stroke-dasharray="2.8 1.9" stroke-dashoffset="0.0"/><line x1="159.0" y1="1015.5" x2="238.5" y2="996.0" stroke="#1e1f20" stroke-width="1.6" stroke-dasharray="2.8 1.9" stroke-dashoffset="2.4"/><line x1="159.0" y1="1016.5" x2="238.5" y2="997.1" stroke="#1e1f20" stroke-width="1.6" stroke-dasharray="2.8 1.9" stroke-dashoffset="0.0"/></g><polygon points="159.0,1017.4 238.5,998.3 238.5,1000.7 159.0,1019.8" fill="#78797b" /><polygon points="242.2,984.9 316.4,967.3 316.4,989.4 242.2,1007.3" fill="#4b4c4e" /><polygon points="242.2,984.9 316.4,967.3 316.4,968.7 243.6,986.5" fill="#868789" /><polygon points="246.7,987.0 313.4,970.5 313.4,981.7 246.7,998.2" fill="#f4f5f5" /><line x1="246.7" y1="988.2" x2="313.4" y2="971.7" stroke="#d0d1d2" stroke-width="0.7" /><line x1="246.7" y1="989.5" x2="313.4" y2="973.0" stroke="#d0d1d2" stroke-width="0.7" /><line x1="246.7" y1="990.7" x2="313.4" y2="974.2" stroke="#d0d1d2" stroke-width="0.7" /><line x1="246.7" y1="992.0" x2="313.4" y2="975.5" stroke="#d0d1d2" stroke-width="0.7" /><line x1="246.7" y1="993.2" x2="313.4" y2="976.7" stroke="#d0d1d2" stroke-width="0.7" /><line x1="246.7" y1="994.5" x2="313.4" y2="978.0" stroke="#d0d1d2" stroke-width="0.7" /><line x1="246.7" y1="995.7" x2="313.4" y2="979.2" stroke="#d0d1d2" stroke-width="0.7" /><line x1="246.7" y1="997.0" x2="313.4" y2="980.5" stroke="#d0d1d2" stroke-width="0.7" /><clipPath id="d5c3"><polygon points="254.0,940.0 291.0,940.0 291.0,1020.0 254.0,1020.0" fill="#000" /></clipPath><g clip-path="url(#d5c3)"><line x1="246.7" y1="988.2" x2="313.4" y2="971.7" stroke="#1e1f20" stroke-width="1.6" stroke-dasharray="2.8 1.9" stroke-dashoffset="2.4"/><line x1="246.7" y1="989.5" x2="313.4" y2="973.0" stroke="#1e1f20" stroke-width="1.6" stroke-dasharray="2.8 1.9" stroke-dashoffset="0.0"/><line x1="246.7" y1="990.7" x2="313.4" y2="974.2" stroke="#1e1f20" stroke-width="1.6" stroke-dasharray="2.8 1.9" stroke-dashoffset="2.4"/><line x1="246.7" y1="992.0" x2="313.4" y2="975.5" stroke="#1e1f20" stroke-width="1.6" stroke-dasharray="2.8 1.9" stroke-dashoffset="0.0"/><line x1="246.7" y1="993.2" x2="313.4" y2="976.7" stroke="#1e1f20" stroke-width="1.6" stroke-dasharray="2.8 1.9" stroke-dashoffset="2.4"/><line x1="246.7" y1="994.5" x2="313.4" y2="978.0" stroke="#1e1f20" stroke-width="1.6" stroke-dasharray="2.8 1.9" stroke-dashoffset="0.0"/><line x1="246.7" y1="995.7" x2="313.4" y2="979.2" stroke="#1e1f20" stroke-width="1.6" stroke-dasharray="2.8 1.9" stroke-dashoffset="2.4"/><line x1="246.7" y1="997.0" x2="313.4" y2="980.5" stroke="#1e1f20" stroke-width="1.6" stroke-dasharray="2.8 1.9" stroke-dashoffset="0.0"/></g><polygon points="246.7,998.2 313.4,981.7 313.4,984.1 246.7,1000.6" fill="#78797b" /><polygon points="315.9,967.4 358.0,980.8 358.0,1010.0 315.9,996.0" fill="#3b3c3e" /><polygon points="315.9,967.4 358.0,980.8 356.6,982.0 315.9,969.0" fill="#2d2e30" /><polygon points="320.3,971.7 353.9,983.0 353.9,993.0 320.3,983.7" fill="#f3f4f4" /><line x1="320.3" y1="973.4" x2="353.9" y2="984.4" stroke="#d4d5d6" stroke-width="0.6" /><line x1="320.3" y1="975.1" x2="353.9" y2="985.9" stroke="#d4d5d6" stroke-width="0.6" /><line x1="320.3" y1="976.8" x2="353.9" y2="987.3" stroke="#d4d5d6" stroke-width="0.6" /><line x1="320.3" y1="978.6" x2="353.9" y2="988.7" stroke="#d4d5d6" stroke-width="0.6" /><line x1="320.3" y1="980.3" x2="353.9" y2="990.1" stroke="#d4d5d6" stroke-width="0.6" /><line x1="320.3" y1="982.0" x2="353.9" y2="991.6" stroke="#d4d5d6" stroke-width="0.6" /><polygon points="320.3,985.6 353.9,995.0 353.9,1002.6 320.3,994.0" fill="#f4f4f4" /><polygon points="60.0,1052.0 80.3,1043.8 151.7,1025.8 154.0,1036.0 187.0,1048.0 89.3,1076.2 70.0,1070.0" fill="#fcfcfc" /><polygon points="80.3,1044.4 151.7,1026.4 151.7,1030.4 89.0,1047.4" fill="#f5f5f5" /><line x1="91.0" y1="1048.8" x2="151.7" y2="1031.4" stroke="#e3e4e6" stroke-width="0.7" /><polygon points="160.0,1028.0 170.0,1016.2 239.8,999.4 242.5,1012.0 277.2,1024.5 191.9,1048.6 175.0,1042.0" fill="#fcfcfc" /><polygon points="170.0,1016.8 239.8,1000.0 239.8,1004.0 178.0,1020.0" fill="#f5f5f5" /><line x1="180.0" y1="1021.4" x2="239.8" y2="1005.0" stroke="#e3e4e6" stroke-width="0.7" /><polygon points="246.0,1005.0 257.2,997.0 314.6,982.8 320.3,994.0 354.4,1003.0 281.7,1024.0 262.0,1018.0" fill="#fcfcfc" /><polygon points="257.2,997.6 314.6,983.4 314.6,987.2 264.0,1000.4" fill="#f5f5f5" /><line x1="266.0" y1="1001.8" x2="314.6" y2="988.2" stroke="#e3e4e6" stroke-width="0.7" /><line x1="320.3" y1="994.4" x2="353.9" y2="1003.0" stroke="#e2e3e4" stroke-width="0.7" /><polygon points="89.3,1073.4 187.0,1047.4 187.0,1050.6 89.3,1076.6" fill="#f1f1f2" /><polygon points="191.9,1045.8 277.0,1023.2 277.0,1026.4 191.9,1049.0" fill="#f1f1f2" /><polygon points="281.7,1021.4 354.6,1000.8 354.6,1004.4 281.7,1024.6" fill="#f1f1f2" /><polygon points="100.0,1075.0 153.4,1061.9 153.4,1081.1 100.0,1096.6" fill="url(#d5m1)" /><polygon points="100.0,1089.6 153.4,1075.0 153.4,1081.1 100.0,1096.6" fill="#232426" /><polygon points="153.4,1061.9 188.3,1051.0 188.3,1099.8 153.4,1081.1" fill="url(#d5pf1)" /><polygon points="153.4,1076.4 188.3,1095.0 188.3,1099.8 153.4,1081.1" fill="#1b1c1e" /><polygon points="200.0,1048.6 242.2,1037.3 242.2,1053.5 200.0,1064.4" fill="url(#d5m2)" /><polygon points="200.0,1058.4 242.2,1048.4 242.2,1053.5 200.0,1064.4" fill="#232426" /><polygon points="242.2,1037.3 277.2,1026.4 277.2,1067.2 242.2,1053.5" fill="url(#d5pf2)" /><polygon points="242.2,1049.4 277.2,1063.0 277.2,1067.2 242.2,1053.5" fill="#1b1c1e" /><polygon points="290.0,1022.4 315.9,1014.8 315.9,1032.3 290.0,1039.0" fill="url(#d5m3)" /><polygon points="290.0,1034.0 315.9,1027.6 315.9,1032.3 290.0,1039.0" fill="#232426" /><polygon points="315.9,1014.8 353.6,1005.0 353.6,1049.7 315.9,1032.3" fill="url(#d5pf3)" /><polygon points="315.9,1028.0 353.6,1045.2 353.6,1049.7 315.9,1032.3" fill="#1b1c1e" /><polygon points="152.6,1008.0 154.8,1007.0 155.9,1007.8 155.9,1037.0 152.6,1035.4" fill="#343536" /><polygon points="239.8,985.9 242.0,984.9 243.0,985.7 243.0,1013.0 239.8,1011.4" fill="#343536" /><polygon points="315.2,968.4 317.4,967.4 318.4,968.2 318.4,997.0 315.2,995.4" fill="#343536" /><path d="M354,983.4 Q354,979.8 356.2,980.4 Q358,981 358,983.6 L357.6,1051 L355.8,1052.4 L353.8,1049.6 Z" fill="url(#d5p)"/><polygon points="154.7,1007.4 190.0,1022.6 190.0,1049.0 154.7,1036.0" fill="#4d4e50" /><polygon points="157.3,1011.6 186.4,1025.2 186.4,1037.5 157.3,1026.4" fill="#f2f3f3" /><line x1="157.3" y1="1013.7" x2="186.4" y2="1027.0" stroke="#cacbcc" stroke-width="0.7" /><line x1="157.3" y1="1015.8" x2="186.4" y2="1028.7" stroke="#cacbcc" stroke-width="0.7" /><line x1="157.3" y1="1017.9" x2="186.4" y2="1030.5" stroke="#cacbcc" stroke-width="0.7" /><line x1="157.3" y1="1020.1" x2="186.4" y2="1032.2" stroke="#cacbcc" stroke-width="0.7" /><line x1="157.3" y1="1022.2" x2="186.4" y2="1034.0" stroke="#cacbcc" stroke-width="0.7" /><line x1="157.3" y1="1024.3" x2="186.4" y2="1035.7" stroke="#cacbcc" stroke-width="0.7" /><polygon points="157.3,1028.8 186.4,1039.6 186.4,1048.0 156.0,1036.5" fill="#f1f1f2" /><polygon points="154.1,1007.8 157.1,1006.4 193.0,1020.6 188.4,1023.8 186.4,1025.2 157.3,1011.6" fill="#2e2f30" /><polygon points="154.1,1007.8 157.1,1006.4 193.0,1020.6 190.0,1022.0" fill="#6d6e70" /><path d="M188.0,1025.6 Q188.0,1021.6 190.3,1021.6 Q192.6,1021.6 192.6,1025.2 L192.6,1102.0 L190.6,1103.6 L188.3,1100.6 Z" fill="url(#d5s1)"/><polygon points="242.2,985.4 279.8,1001.2 279.8,1025.0 242.2,1012.0" fill="#4d4e50" /><polygon points="244.4,990.0 276.8,1003.8 276.8,1015.3 244.4,1003.4" fill="#f2f3f3" /><line x1="244.4" y1="991.9" x2="276.8" y2="1005.4" stroke="#cacbcc" stroke-width="0.7" /><line x1="244.4" y1="993.8" x2="276.8" y2="1007.1" stroke="#cacbcc" stroke-width="0.7" /><line x1="244.4" y1="995.7" x2="276.8" y2="1008.7" stroke="#cacbcc" stroke-width="0.7" /><line x1="244.4" y1="997.7" x2="276.8" y2="1010.4" stroke="#cacbcc" stroke-width="0.7" /><line x1="244.4" y1="999.6" x2="276.8" y2="1012.0" stroke="#cacbcc" stroke-width="0.7" /><line x1="244.4" y1="1001.5" x2="276.8" y2="1013.7" stroke="#cacbcc" stroke-width="0.7" /><polygon points="244.4,1005.6 276.8,1017.2 276.8,1024.4 243.4,1012.4" fill="#f1f1f2" /><polygon points="241.6,985.8 244.6,984.4 282.1,999.2 278.7,1002.4 276.8,1003.8 244.4,990.0" fill="#2e2f30" /><polygon points="241.6,985.8 244.6,984.4 282.1,999.2 279.1,1000.6" fill="#6d6e70" /><path d="M278.3,1003.6 Q278.3,999.6 280.0,999.6 Q281.7,999.6 281.7,1003.2 L281.7,1068.4 L279.7,1070.0 L278.6,1067.0 Z" fill="url(#d5s2)"/><polygon points="89.3,1076.6 111.0,1070.8 119.2,1081.6 89.3,1086.9" fill="url(#d5f1t)" /><polygon points="89.3,1086.9 119.2,1081.6 119.2,1121.8 89.3,1131.0" fill="url(#d5f1)" /><line x1="119.2" y1="1081.6" x2="119.2" y2="1121.8" stroke="#c5c6c8" stroke-width="1" /><line x1="89.3" y1="1102.3" x2="119.2" y2="1095.3" stroke="#bfc0c2" stroke-width="1" /><line x1="89.3" y1="1116.0" x2="119.2" y2="1108.6" stroke="#bfc0c2" stroke-width="1" /><circle cx="117.2" cy="1084.2" r="1.6" fill="#222"/><circle cx="117.5" cy="1088.4" r="1.2" fill="#ddd" stroke="#999" stroke-width=".5"/><ellipse cx="116.0" cy="1123.5" rx="2.5" ry="2.1" fill="#292a2c"/><polygon points="191.9,1049.0 209.8,1044.3 217.3,1054.0 191.9,1058.5" fill="url(#d5f2t)" /><polygon points="191.9,1058.5 217.3,1054.0 217.3,1088.0 191.9,1096.0" fill="url(#d5f2)" /><line x1="217.3" y1="1054.0" x2="217.3" y2="1088.0" stroke="#c5c6c8" stroke-width="1" /><line x1="191.9" y1="1071.5" x2="217.3" y2="1065.6" stroke="#bfc0c2" stroke-width="1" /><line x1="191.9" y1="1083.5" x2="217.3" y2="1076.8" stroke="#bfc0c2" stroke-width="1" /><circle cx="215.6" cy="1056.4" r="1.6" fill="#222"/><circle cx="215.9" cy="1060.6" r="1.2" fill="#ddd" stroke="#999" stroke-width=".5"/><ellipse cx="214.4" cy="1089.6" rx="2.5" ry="2.1" fill="#292a2c"/><polygon points="281.7,1025.2 295.9,1021.4 301.6,1028.1 281.7,1031.8" fill="url(#d5f3t)" /><polygon points="281.7,1031.8 301.6,1028.1 301.6,1063.5 281.7,1069.7" fill="url(#d5f3)" /><line x1="301.6" y1="1028.1" x2="301.6" y2="1063.5" stroke="#c5c6c8" stroke-width="1" /><line x1="281.7" y1="1043.5" x2="301.6" y2="1039.3" stroke="#bfc0c2" stroke-width="1" /><line x1="281.7" y1="1056.0" x2="301.6" y2="1051.0" stroke="#bfc0c2" stroke-width="1" /><circle cx="300.0" cy="1030.4" r="1.6" fill="#222"/><circle cx="300.3" cy="1034.6" r="1.2" fill="#ddd" stroke="#999" stroke-width=".5"/><ellipse cx="297.6" cy="1065.2" rx="2.5" ry="2.1" fill="#292a2c"/><line x1="98.5" y1="1092.8" x2="109.8" y2="1090.6" stroke="#1d1e20" stroke-width="2.2" stroke-linecap="round"/><line x1="98.5" y1="1107.3" x2="109.8" y2="1104.8" stroke="#1d1e20" stroke-width="2.2" stroke-linecap="round"/><line x1="98.5" y1="1119.8" x2="109.8" y2="1117.3" stroke="#1d1e20" stroke-width="2.2" stroke-linecap="round"/><line x1="199.4" y1="1062.9" x2="209.8" y2="1061.0" stroke="#1d1e20" stroke-width="2.2" stroke-linecap="round"/><line x1="199.4" y1="1075.3" x2="209.8" y2="1073.0" stroke="#1d1e20" stroke-width="2.2" stroke-linecap="round"/><line x1="199.4" y1="1087.0" x2="209.8" y2="1084.6" stroke="#1d1e20" stroke-width="2.2" stroke-linecap="round"/><line x1="287.1" y1="1037.8" x2="295.9" y2="1036.0" stroke="#1d1e20" stroke-width="2.2" stroke-linecap="round"/><line x1="287.1" y1="1049.3" x2="295.9" y2="1047.3" stroke="#1d1e20" stroke-width="2.2" stroke-linecap="round"/><line x1="287.1" y1="1060.2" x2="295.9" y2="1058.0" stroke="#1d1e20" stroke-width="2.2" stroke-linecap="round"/><polygon points="22.7,1011.3 52.6,1027.8 52.6,1110.0 26.3,1088.7" fill="#414244" /><polygon points="25.6,1039.8 51.6,1054.4 51.6,1107.0 28.6,1087.6" fill="url(#d5a)" /><polygon points="24.6,1030.4 51.6,1042.6 51.6,1053.4 24.8,1038.8" fill="#eeeeef" /><polygon points="25.4,1016.0 50.6,1030.4 50.6,1041.0 25.4,1028.8" fill="#f3f4f4" /><line x1="25.4" y1="1018.1" x2="50.6" y2="1032.2" stroke="#d1d2d4" stroke-width="0.6" /><line x1="25.4" y1="1020.3" x2="50.6" y2="1033.9" stroke="#d1d2d4" stroke-width="0.6" /><line x1="25.4" y1="1022.4" x2="50.6" y2="1035.7" stroke="#d1d2d4" stroke-width="0.6" /><line x1="25.4" y1="1024.5" x2="50.6" y2="1037.5" stroke="#d1d2d4" stroke-width="0.6" /><line x1="25.4" y1="1026.7" x2="50.6" y2="1039.2" stroke="#d1d2d4" stroke-width="0.6" /><polygon points="22.7,1011.3 24.8,1010.6 54.4,1027.0 52.4,1028.6 50.6,1030.4 25.4,1016.0" fill="#343536" /><polygon points="22.7,1011.3 24.8,1010.6 54.4,1027.0 52.8,1027.8 23.8,1012.4" fill="#67686a" /><polygon points="22.7,1011.3 25.2,1013.4 28.6,1087.6 26.3,1088.7" fill="#464749" /><polygon points="54.2,1029.0 85.0,1046.5 85.0,1133.5 56.1,1111.0" fill="#414244" /><polygon points="56.6,1058.0 84.2,1076.6 84.2,1130.0 57.4,1109.4" fill="url(#d5b)" /><polygon points="54.7,1049.6 84.4,1065.3 84.4,1075.4 54.9,1056.8" fill="#eeeeef" /><polygon points="55.7,1034.0 84.0,1049.8 84.0,1063.4 55.7,1047.4" fill="#f3f4f4" /><line x1="55.7" y1="1035.9" x2="84.0" y2="1051.7" stroke="#d1d2d4" stroke-width="0.6" /><line x1="55.7" y1="1037.8" x2="84.0" y2="1053.7" stroke="#d1d2d4" stroke-width="0.6" /><line x1="55.7" y1="1039.7" x2="84.0" y2="1055.6" stroke="#d1d2d4" stroke-width="0.6" /><line x1="55.7" y1="1041.7" x2="84.0" y2="1057.6" stroke="#d1d2d4" stroke-width="0.6" /><line x1="55.7" y1="1043.6" x2="84.0" y2="1059.5" stroke="#d1d2d4" stroke-width="0.6" /><line x1="55.7" y1="1045.5" x2="84.0" y2="1061.5" stroke="#d1d2d4" stroke-width="0.6" /><polygon points="53.8,1028.6 56.0,1027.6 88.0,1045.8 86.0,1047.4 84.0,1049.8 55.7,1034.0" fill="#343536" /><polygon points="53.8,1028.6 56.0,1027.6 88.0,1045.8 86.4,1046.6 55.0,1029.8" fill="#67686a" /><path d="M51.3,1030 Q51.3,1027.4 52.8,1027.4 Q54.4,1027.4 54.4,1030 L56.4,1111 L54.8,1112.4 L52.4,1110.4 Z" fill="url(#d5mp)"/><path d="M84.4,1050 Q84.4,1046.4 86.3,1046.4 Q88.2,1046.4 88.2,1049.6 L89,1134.6 L87,1136.2 L84.2,1133 Z" fill="url(#d5q)"/><line x1="72.9" y1="1046.8" x2="78.4" y2="1049.8" stroke="#2b2c2e" stroke-width="0.55" /><line x1="71.9" y1="1047.3" x2="78.4" y2="1050.9" stroke="#2b2c2e" stroke-width="0.55" /><line x1="71.4" y1="1048.1" x2="78.4" y2="1051.9" stroke="#2b2c2e" stroke-width="0.55" /><line x1="71.4" y1="1049.1" x2="77.9" y2="1052.7" stroke="#2b2c2e" stroke-width="0.55" /><line x1="71.4" y1="1050.2" x2="76.9" y2="1053.2" stroke="#2b2c2e" stroke-width="0.55" /><polygon points="90.7,1050.4 104.6,1047.6 105.0,1053.6 91.7,1056.8" fill="#f0a91e" /><polygon points="92.8,1050.8 104.2,1048.4 104.5,1052.4 93.4,1055.0" fill="#353637" /><line x1="98.1" y1="1051.7" x2="103.8" y2="1050.5" stroke="#a9bccb" stroke-width="1.4" stroke-dasharray="1.8 1.1"/><polygon points="113.5,1051.0 138.4,1044.3 150.9,1050.3 124.7,1058.6" fill="url(#d5lap)" /><polygon points="113.5,1051.0 124.7,1058.6 124.7,1060.1 113.5,1052.5" fill="#8f9092" /><polygon points="124.7,1058.6 150.9,1050.3 150.9,1051.7 124.7,1060.1" fill="#a2a3a5" /><path d="M154.8,1029.6 L155.4,1034.4 Q159.4,1039.9 163.4,1034.4 L164.0,1029.6 Z" fill="url(#d5cup)"/><ellipse cx="159.4" cy="1029.6" rx="4.6" ry="1.7" fill="#48494a"/><rect x="155.5" y="1022.1" width="2.1" height="8.5" fill="#f08a1c" transform="rotate(-4 159.4 1029.6)"/><rect x="158.0" y="1022.8" width="2.2" height="7.8" fill="#1fb5c9"/><rect x="160.1" y="1024.0" width="1.2" height="6.6" fill="#e8c12a"/><rect x="161.2" y="1021.7" width="1.7" height="8.9" fill="#3b9e7e" transform="rotate(3 159.4 1029.6)"/><rect x="161.2" y="1021.2" width="1.7" height="1.8" fill="#e55aa6" transform="rotate(3 159.4 1029.6)"/><g transform="translate(138.6 1007.4) scale(0.50)"><path d="M0,4 Q9,-2 13.5,9 Q16.5,19 12,26" fill="none" stroke="#ece04e" stroke-width="2.8" stroke-linecap="round"/><rect x="7" y="21" width="7" height="8.5" rx="2.2" fill="#e6d63a" transform="rotate(22 10 25)"/><line x1="-0.8" y1="15.0" x2="5.5" y2="17.2" stroke="#27282a" stroke-width="1.3" /><line x1="-1.6" y1="17.3" x2="5.9" y2="19.5" stroke="#27282a" stroke-width="1.3" /><line x1="-2.5" y1="19.6" x2="6.3" y2="21.8" stroke="#27282a" stroke-width="1.3" /><line x1="-2.5" y1="21.9" x2="6.3" y2="24.1" stroke="#27282a" stroke-width="1.3" /><line x1="-1.6" y1="24.2" x2="5.9" y2="26.4" stroke="#27282a" stroke-width="1.3" /><line x1="-0.8" y1="26.5" x2="5.5" y2="28.7" stroke="#27282a" stroke-width="1.3" /></g><polygon points="201.8,1026.8 225.3,1021.1 236.0,1026.1 212.3,1033.5" fill="#c8c9ca" /><polygon points="212.3,1033.5 236.0,1026.1 236.0,1027.3 212.3,1034.7" fill="#9a9b9c" /><polygon points="204.5,1026.9 224.3,1022.0 229.8,1024.6 210.0,1030.3" fill="#464749" /><polygon points="199.1,1009.9 221.8,1004.4 224.8,1020.6 201.8,1026.1" fill="#2c2d2f" /><polygon points="200.4,1010.6 220.8,1005.6 223.4,1019.6 202.7,1024.5" fill="url(#d5scr2)" /><polygon points="200.8,1010.5 206.5,1009.1 208.9,1023.0 203.1,1024.4" fill="#d9eef8" /><polygon points="201.9,1012.0 206.0,1011.0 206.7,1014.9 202.6,1015.9" fill="#e6503c" /><polygon points="202.7,1016.6 204.7,1016.1 205.3,1019.6 203.3,1020.1" fill="#f4b62a" /><polygon points="204.9,1016.0 207.0,1015.5 207.6,1019.0 205.5,1019.5" fill="#3bb273" /><polygon points="203.4,1020.6 207.7,1019.6 208.1,1022.1 203.8,1023.1" fill="#2d7be0" /><polygon points="213.0,1011.9 217.5,1010.8 218.3,1015.3 213.8,1016.4" fill="#7cc4f2" /><polygon points="233.5,1023.6 241.0,1022.8 243.5,1025.6 236.0,1026.8" fill="#8a5a34" /><polygon points="284.6,1004.4 305.1,999.4 317.0,1004.9 295.9,1011.1" fill="#c8c9ca" /><polygon points="295.9,1011.1 317.0,1004.9 317.0,1006.1 295.9,1012.3" fill="#9a9b9c" /><polygon points="287.1,1004.5 304.4,1000.2 310.6,1003.2 293.0,1008.0" fill="#464749" /><polygon points="282.1,989.4 302.1,984.4 305.1,998.6 284.6,1003.6" fill="#2c2d2f" /><polygon points="283.3,990.0 301.3,985.5 303.8,997.7 285.4,1002.2" fill="url(#d5scr3)" /><polygon points="283.6,989.9 288.7,988.7 290.9,1000.9 285.8,1002.1" fill="#d9eef8" /><polygon points="284.6,991.2 288.2,990.3 288.8,993.7 285.2,994.6" fill="#e6503c" /><polygon points="285.3,995.2 287.1,994.8 287.7,997.8 285.9,998.3" fill="#f4b62a" /><polygon points="287.3,994.7 289.1,994.3 289.7,997.3 287.9,997.8" fill="#3bb273" /><polygon points="286.0,998.8 289.8,997.8 290.2,1000.0 286.4,1001.0" fill="#2d7be0" /><polygon points="294.4,991.1 298.4,990.1 299.2,994.0 295.2,995.0" fill="#7cc4f2" /><polygon points="308.3,989.6 319.1,985.6 325.7,989.2 325.7,994.5 314.9,997.7 308.3,994.8" fill="#d8b98c" /><polygon points="309.2,984.5 317.0,983.0 318.4,991.8 311.1,994.5" fill="#f7f7f7" /><polygon points="310.7,987.4 313.9,986.2 315.3,990.4 312.1,992.1" fill="#2b2c2e" /><polygon points="313.2,985.9 316.3,985.1 317.0,988.0 314.2,989.2" fill="#e8c12a" /><polygon points="311.8,990.6 314.2,989.8 314.9,991.8 312.5,993.0" fill="#d23b6a" /><polygon points="318.7,987.4 320.1,983.7 320.8,987.4" fill="#2c2d2e" /><polygon points="318.7,987.7 325.7,989.2 325.7,994.5 318.7,996.2" fill="#caa878" /><line x1="321.9" y1="988.3" x2="322.9" y2="983.3" stroke="#e0a23a" stroke-width="1.2" /><line x1="323.3" y1="988.6" x2="324.0" y2="984.2" stroke="#c8863a" stroke-width="1.2" /></g><!--/DESK5-->
</svg>
<div class="lbl" style="left:202px;top:430.5px">一字型单人位</div>
<div class="lbl" style="left:572.5px;top:430.5px">工字型双人位</div>
<div class="lbl" style="left:196.5px;top:806px"><span style="letter-spacing:-2px">E</span>字型双人位</div>
<div class="lbl" style="left:572.5px;top:806px">王字型四人位</div>
<div class="lbl" style="left:202px;top:1177px">王字型六人位</div>
<div class="lbl" style="left:561px;top:1177px">详情咨询客服</div>
<div class="big" style="top:971px;margin-left:-2.5px">更多尺寸<br>支持定制</div>
</body>
</html>
